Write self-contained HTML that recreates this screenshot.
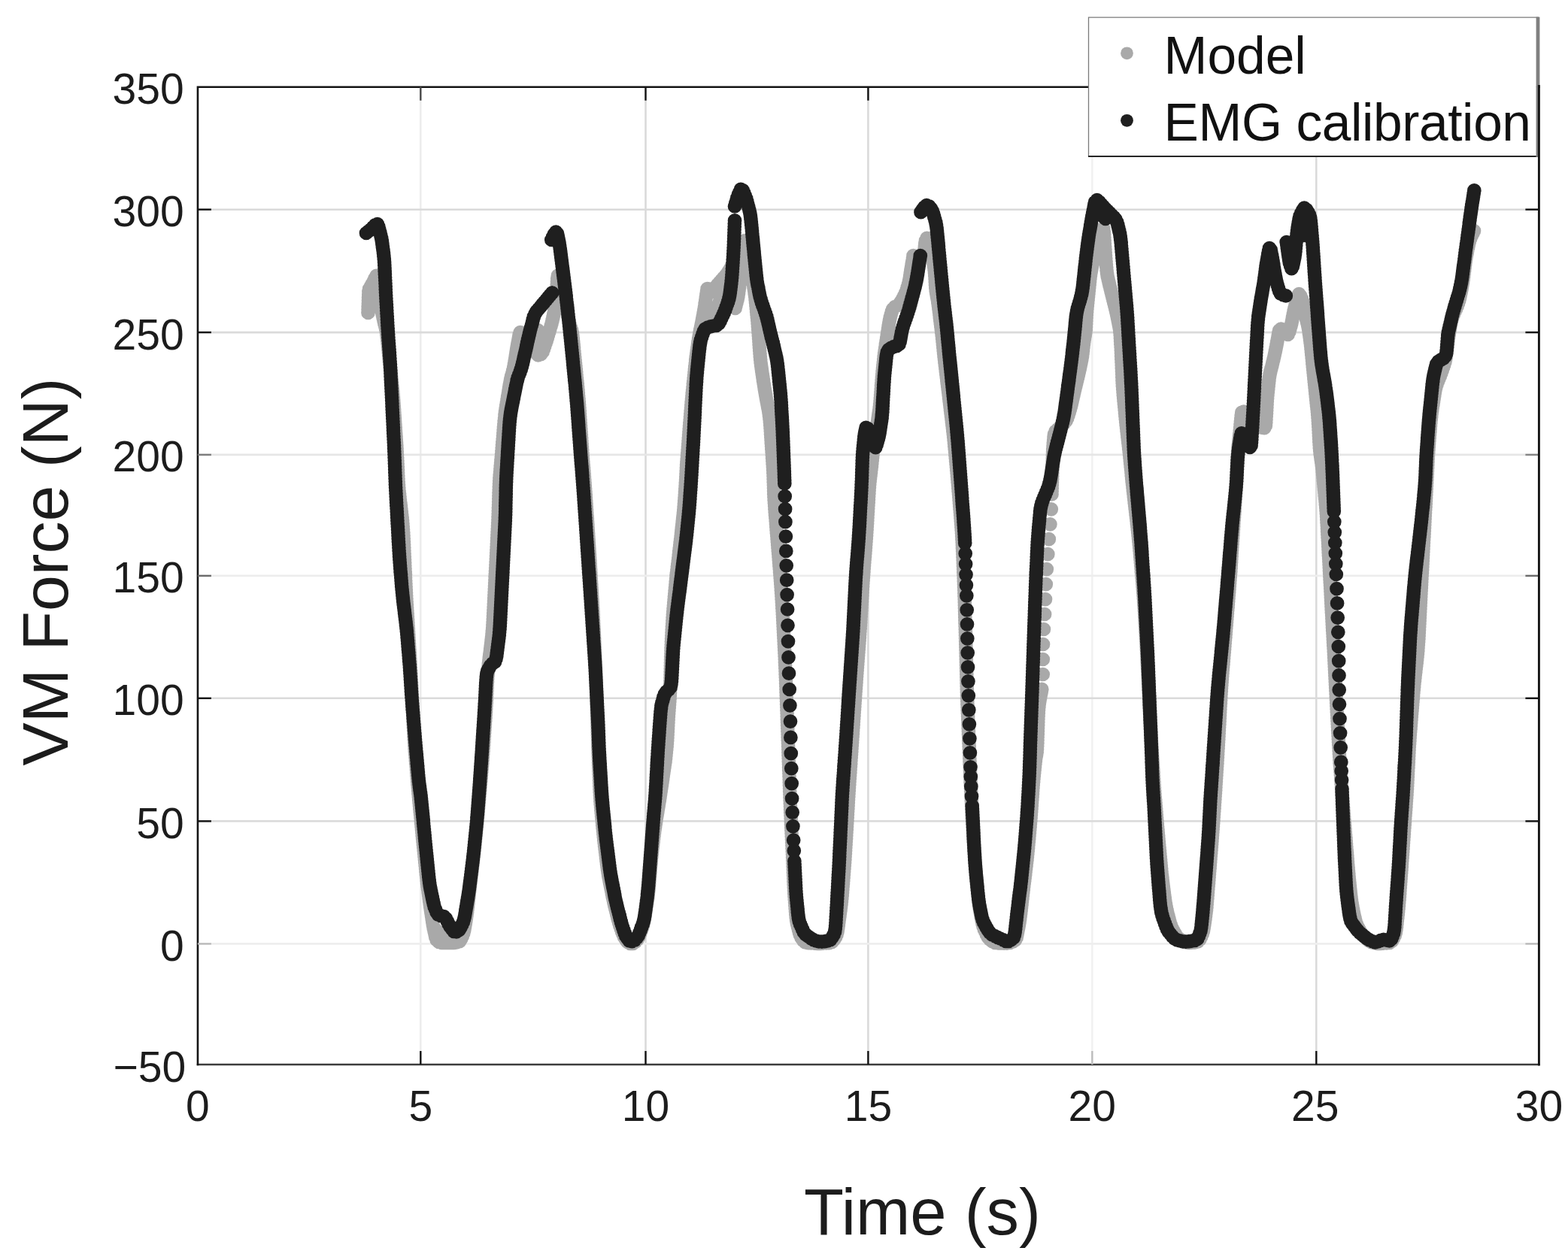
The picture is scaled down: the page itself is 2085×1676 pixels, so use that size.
<!DOCTYPE html>
<html lang="en">
<head>
<meta charset="utf-8">
<title>VM Force vs Time</title>
<style>
html,body{margin:0;padding:0;background:#fff;}
body{width:2085px;height:1676px;overflow:hidden;}
svg{display:block;}
</style>
</head>
<body>
<svg width="2085" height="1676" viewBox="0 0 2085 1676">
<rect width="2085" height="1676" fill="#fff"/>
<g stroke-width="2.6" fill="none">
<line x1="559.3" y1="115.7" x2="559.3" y2="1416.0" stroke="#ececec"/>
<line x1="858.5" y1="115.7" x2="858.5" y2="1416.0" stroke="#dadada"/>
<line x1="1154.4" y1="115.7" x2="1154.4" y2="1416.0" stroke="#dadada"/>
<line x1="1452.3" y1="115.7" x2="1452.3" y2="1416.0" stroke="#f1f1f1"/>
<line x1="1750.3" y1="115.7" x2="1750.3" y2="1416.0" stroke="#dadada"/>
<line x1="262.9" y1="278.7" x2="2046.4" y2="278.7" stroke="#dadada"/>
<line x1="262.9" y1="442.1" x2="2046.4" y2="442.1" stroke="#dadada"/>
<line x1="262.9" y1="604.9" x2="2046.4" y2="604.9" stroke="#e6e6e6"/>
<line x1="262.9" y1="765.9" x2="2046.4" y2="765.9" stroke="#ededed"/>
<line x1="262.9" y1="928.8" x2="2046.4" y2="928.8" stroke="#dadada"/>
<line x1="262.9" y1="1092.3" x2="2046.4" y2="1092.3" stroke="#dadada"/>
<line x1="262.9" y1="1255.4" x2="2046.4" y2="1255.4" stroke="#eeeeee"/>
</g>
<path d="M489.5 416.0h0M489.6 412.0h0M489.7 408.0h0M489.9 404.0h0M490.0 400.0h0M490.1 396.0h0M490.3 392.0h0M490.4 388.0h0M491.2 384.1h0M493.2 380.6h0M495.2 377.2h0M497.1 373.6h0M498.7 370.0h0M500.6 366.9h0M501.6 370.7h0M502.0 374.7h0M502.4 378.7h0M502.8 382.7h0M503.3 386.6h0M503.8 390.6h0M504.4 394.5h0M505.0 398.5h0M505.6 402.5h0M506.3 406.4h0M507.1 410.3h0M507.8 414.2h0M508.6 418.2h0M509.4 422.1h0M510.3 426.0h0M511.2 429.9h0M512.2 433.8h0M513.1 437.7h0M513.9 441.6h0M514.4 445.5h0M514.9 449.5h0M515.3 453.5h0M515.7 457.5h0M516.1 461.5h0M516.5 465.4h0M516.9 469.4h0M517.3 473.4h0M517.7 477.4h0M518.1 481.4h0M518.5 485.3h0M518.9 489.3h0M519.4 493.3h0M519.8 497.3h0M520.2 501.2h0M520.6 505.2h0M521.0 509.2h0M521.4 513.2h0M521.8 517.2h0M522.2 521.1h0M522.5 525.1h0M522.9 529.1h0M523.2 533.1h0M523.5 537.1h0M523.8 541.1h0M524.1 545.1h0M524.3 549.1h0M524.6 553.1h0M524.9 557.0h0M525.1 561.0h0M525.4 565.0h0M525.7 569.0h0M525.9 573.0h0M526.2 577.0h0M526.5 581.0h0M526.7 585.0h0M527.0 589.0h0M527.3 593.0h0M527.5 597.0h0M527.7 601.0h0M528.0 604.9h0M528.2 608.9h0M528.4 612.9h0M528.6 616.9h0M528.8 620.9h0M529.0 624.9h0M529.1 628.9h0M529.3 632.9h0M529.5 636.9h0M529.7 640.9h0M530.0 644.9h0M530.3 648.9h0M530.6 652.9h0M531.1 656.8h0M531.5 660.8h0M531.9 664.8h0M532.4 668.8h0M532.9 672.7h0M533.3 676.7h0M533.8 680.7h0M534.2 684.7h0M534.7 688.6h0M535.1 692.6h0M535.4 696.6h0M535.7 700.6h0M536.0 704.6h0M536.3 708.6h0M536.5 712.6h0M536.7 716.6h0M536.9 720.6h0M537.1 724.6h0M537.3 728.5h0M537.4 732.5h0M537.6 736.5h0M537.8 740.5h0M538.0 744.5h0M538.2 748.5h0M538.3 752.5h0M538.5 756.5h0M538.7 760.5h0M538.9 764.5h0M539.0 768.5h0M539.2 772.5h0M539.4 776.5h0M539.6 780.5h0M539.8 784.5h0M540.0 788.5h0M540.2 792.5h0M540.4 796.5h0M540.6 800.5h0M540.9 804.5h0M541.1 808.5h0M541.3 812.4h0M541.6 816.4h0M541.8 820.4h0M542.1 824.4h0M542.3 828.4h0M542.5 832.4h0M542.8 836.4h0M543.0 840.4h0M543.3 844.4h0M543.5 848.4h0M543.8 852.4h0M544.0 856.4h0M544.2 860.4h0M544.5 864.4h0M544.7 868.3h0M545.0 872.3h0M545.2 876.3h0M545.5 880.3h0M545.7 884.3h0M545.9 888.3h0M546.2 892.3h0M546.4 896.3h0M546.6 900.3h0M546.8 904.3h0M547.0 908.3h0M547.2 912.3h0M547.4 916.3h0M547.6 920.3h0M547.8 924.3h0M548.0 928.3h0M548.2 932.3h0M548.4 936.2h0M548.6 940.2h0M548.8 944.2h0M549.0 948.2h0M549.2 952.2h0M549.4 956.2h0M549.6 960.2h0M549.8 964.2h0M550.0 968.2h0M550.2 972.2h0M550.4 976.2h0M550.6 980.2h0M550.8 984.2h0M551.1 988.2h0M551.4 992.2h0M551.6 996.2h0M551.9 1000.1h0M552.3 1004.1h0M552.6 1008.1h0M552.9 1012.1h0M553.2 1016.1h0M553.6 1020.1h0M553.9 1024.1h0M554.2 1028.1h0M554.5 1032.0h0M554.9 1036.0h0M555.2 1040.0h0M555.5 1044.0h0M555.9 1048.0h0M556.2 1052.0h0M556.5 1056.0h0M556.9 1059.9h0M557.2 1063.9h0M557.6 1067.9h0M558.0 1071.9h0M558.3 1075.9h0M558.7 1079.9h0M559.1 1083.8h0M559.5 1087.8h0M559.8 1091.8h0M560.2 1095.8h0M560.6 1099.8h0M561.0 1103.7h0M561.4 1107.7h0M561.7 1111.7h0M562.1 1115.7h0M562.5 1119.7h0M562.9 1123.7h0M563.3 1127.6h0M563.7 1131.6h0M564.1 1135.6h0M564.5 1139.6h0M564.9 1143.6h0M565.3 1147.5h0M565.7 1151.5h0M566.1 1155.5h0M566.4 1159.5h0M566.8 1163.5h0M567.3 1167.4h0M567.7 1171.4h0M568.1 1175.4h0M568.6 1179.4h0M569.1 1183.3h0M569.6 1187.3h0M570.2 1191.3h0M570.7 1195.2h0M571.2 1199.2h0M571.8 1203.2h0M572.3 1207.1h0M572.9 1211.1h0M573.5 1215.0h0M574.1 1219.0h0M574.7 1222.9h0M575.3 1226.9h0M575.9 1230.8h0M576.6 1234.8h0M577.5 1238.7h0M578.4 1242.6h0M579.2 1246.5h0M580.6 1250.2h0M583.6 1252.9h0M587.4 1253.9h0M591.4 1254.0h0M595.4 1254.0h0M599.4 1254.0h0M603.4 1253.9h0M607.3 1253.3h0M611.1 1252.1h0M613.3 1248.8h0M614.9 1245.1h0M616.3 1241.4h0M617.3 1237.5h0M618.0 1233.6h0M618.7 1229.6h0M619.3 1225.7h0M619.9 1221.7h0M620.5 1217.8h0M621.1 1213.8h0M621.5 1209.8h0M622.0 1205.9h0M622.4 1201.9h0M622.8 1197.9h0M623.3 1193.9h0M623.7 1190.0h0M624.1 1186.0h0M624.6 1182.0h0M625.1 1178.0h0M625.6 1174.1h0M626.0 1170.1h0M626.5 1166.1h0M627.0 1162.2h0M627.5 1158.2h0M627.9 1154.2h0M628.4 1150.2h0M628.9 1146.3h0M629.3 1142.3h0M629.8 1138.3h0M630.2 1134.3h0M630.6 1130.4h0M631.1 1126.4h0M631.5 1122.4h0M631.9 1118.4h0M632.3 1114.4h0M632.7 1110.5h0M633.1 1106.5h0M633.4 1102.5h0M633.8 1098.5h0M634.2 1094.5h0M634.6 1090.6h0M635.0 1086.6h0M635.4 1082.6h0M635.7 1078.6h0M636.1 1074.6h0M636.5 1070.6h0M636.8 1066.7h0M637.2 1062.7h0M637.5 1058.7h0M637.9 1054.7h0M638.3 1050.7h0M638.6 1046.7h0M639.0 1042.8h0M639.3 1038.8h0M639.7 1034.8h0M640.0 1030.8h0M640.3 1026.8h0M640.6 1022.8h0M641.0 1018.8h0M641.3 1014.9h0M641.6 1010.9h0M641.9 1006.9h0M642.2 1002.9h0M642.5 998.9h0M642.8 994.9h0M643.1 990.9h0M643.4 986.9h0M643.6 982.9h0M643.9 978.9h0M644.1 975.0h0M644.4 971.0h0M644.7 967.0h0M644.9 963.0h0M645.2 959.0h0M645.5 955.0h0M645.7 951.0h0M646.0 947.0h0M646.2 943.0h0M646.4 939.0h0M646.7 935.0h0M646.9 931.0h0M647.0 927.0h0M647.2 923.0h0M647.4 919.1h0M647.6 915.1h0M647.7 911.1h0M648.0 907.1h0M648.2 903.1h0M648.5 899.1h0M648.9 895.1h0M649.2 891.1h0M649.6 887.1h0M649.9 883.2h0M650.4 879.2h0M650.8 875.2h0M651.3 871.2h0M651.8 867.3h0M652.2 863.3h0M652.7 859.3h0M653.2 855.3h0M653.6 851.4h0M654.1 847.4h0M654.5 843.4h0M654.8 839.4h0M655.2 835.4h0M655.4 831.4h0M655.6 827.5h0M655.8 823.5h0M656.0 819.5h0M656.2 815.5h0M656.4 811.5h0M656.6 807.5h0M656.8 803.5h0M657.0 799.5h0M657.2 795.5h0M657.4 791.5h0M657.6 787.5h0M657.8 783.5h0M658.0 779.5h0M658.2 775.5h0M658.4 771.5h0M658.6 767.5h0M658.8 763.5h0M659.0 759.5h0M659.2 755.5h0M659.4 751.5h0M659.6 747.6h0M659.8 743.6h0M660.0 739.6h0M660.2 735.6h0M660.4 731.6h0M660.6 727.6h0M660.8 723.6h0M661.0 719.6h0M661.2 715.6h0M661.4 711.6h0M661.6 707.6h0M661.8 703.6h0M662.0 699.6h0M662.2 695.6h0M662.4 691.6h0M662.5 687.6h0M662.7 683.6h0M662.8 679.6h0M662.9 675.6h0M663.1 671.6h0M663.2 667.6h0M663.3 663.6h0M663.4 659.6h0M663.5 655.6h0M663.7 651.6h0M663.8 647.6h0M664.0 643.6h0M664.2 639.7h0M664.4 635.7h0M664.7 631.7h0M665.1 627.7h0M665.4 623.7h0M665.7 619.7h0M666.1 615.7h0M666.4 611.7h0M666.8 607.8h0M667.1 603.8h0M667.4 599.8h0M667.7 595.8h0M668.0 591.8h0M668.3 587.8h0M668.7 583.8h0M669.0 579.8h0M669.3 575.9h0M669.6 571.9h0M669.9 567.9h0M670.3 563.9h0M670.6 559.9h0M671.1 555.9h0M671.5 552.0h0M672.0 548.0h0M672.6 544.0h0M673.2 540.1h0M673.9 536.1h0M674.5 532.2h0M675.1 528.2h0M675.8 524.3h0M676.4 520.3h0M677.0 516.4h0M677.7 512.4h0M678.4 508.5h0M679.1 504.6h0M680.0 500.7h0M681.1 496.8h0M682.2 493.0h0M683.2 489.1h0M683.9 485.2h0M684.6 481.2h0M685.2 477.3h0M685.8 473.3h0M686.4 469.4h0M687.0 465.4h0M687.6 461.5h0M688.3 457.5h0M689.1 453.6h0M689.8 449.7h0M690.5 445.7h0M691.8 442.0h0M694.6 443.4h0M697.3 446.3h0M699.6 449.6h0M701.8 452.9h0M703.9 456.3h0M706.0 459.7h0M708.1 463.2h0M710.2 466.6h0M712.7 469.7h0M715.6 472.4h0M719.2 471.1h0M721.6 468.0h0M723.0 464.2h0M724.3 460.5h0M725.6 456.7h0M726.8 452.9h0M728.0 449.0h0M729.1 445.2h0M730.3 441.4h0M731.4 437.5h0M732.6 433.7h0M733.6 429.9h0M734.6 426.0h0M735.5 422.1h0M736.3 418.2h0M737.1 414.2h0M737.8 410.3h0M738.5 406.4h0M739.0 402.4h0M739.3 398.4h0M739.7 394.4h0M740.0 390.4h0M740.4 386.4h0M740.6 382.5h0M740.8 378.5h0M741.0 374.5h0M741.2 370.5h0M741.9 366.6h0M744.2 369.1h0M745.9 372.7h0M746.9 376.6h0M747.8 380.5h0M748.7 384.4h0M749.5 388.3h0M750.3 392.2h0M751.2 396.1h0M751.9 400.1h0M752.6 404.0h0M753.3 407.9h0M754.0 411.9h0M754.6 415.8h0M755.3 419.8h0M756.0 423.7h0M756.7 427.6h0M757.6 431.5h0M758.8 435.4h0M760.0 439.2h0M760.8 443.1h0M761.3 447.1h0M761.8 451.0h0M762.2 455.0h0M762.6 459.0h0M763.0 463.0h0M763.4 466.9h0M763.8 470.9h0M764.2 474.9h0M764.6 478.9h0M765.0 482.9h0M765.4 486.8h0M765.8 490.8h0M766.2 494.8h0M766.5 498.8h0M766.9 502.8h0M767.3 506.7h0M767.7 510.7h0M768.1 514.7h0M768.5 518.7h0M768.8 522.7h0M769.1 526.7h0M769.5 530.6h0M769.8 534.6h0M770.1 538.6h0M770.4 542.6h0M770.7 546.6h0M770.9 550.6h0M771.2 554.6h0M771.5 558.6h0M771.7 562.6h0M772.0 566.6h0M772.3 570.5h0M772.5 574.5h0M772.8 578.5h0M773.1 582.5h0M773.3 586.5h0M773.6 590.5h0M773.9 594.5h0M774.2 598.5h0M774.4 602.5h0M774.7 606.5h0M775.0 610.5h0M775.3 614.4h0M775.6 618.4h0M776.0 622.4h0M776.3 626.4h0M776.6 630.4h0M776.9 634.4h0M777.2 638.4h0M777.5 642.4h0M777.8 646.3h0M778.1 650.3h0M778.4 654.3h0M778.7 658.3h0M778.9 662.3h0M779.2 666.3h0M779.5 670.3h0M779.7 674.3h0M780.0 678.3h0M780.2 682.3h0M780.5 686.3h0M780.8 690.2h0M781.0 694.2h0M781.3 698.2h0M781.5 702.2h0M781.8 706.2h0M782.1 710.2h0M782.3 714.2h0M782.6 718.2h0M782.8 722.2h0M783.1 726.2h0M783.4 730.2h0M783.6 734.2h0M783.9 738.1h0M784.1 742.1h0M784.4 746.1h0M784.6 750.1h0M784.8 754.1h0M785.1 758.1h0M785.3 762.1h0M785.6 766.1h0M785.8 770.1h0M786.0 774.1h0M786.3 778.1h0M786.5 782.1h0M786.8 786.1h0M787.0 790.1h0M787.2 794.0h0M787.5 798.0h0M787.7 802.0h0M787.9 806.0h0M788.2 810.0h0M788.4 814.0h0M788.6 818.0h0M788.8 822.0h0M789.0 826.0h0M789.2 830.0h0M789.4 834.0h0M789.6 838.0h0M789.8 842.0h0M790.0 846.0h0M790.2 850.0h0M790.3 854.0h0M790.5 858.0h0M790.7 862.0h0M790.9 866.0h0M791.1 869.9h0M791.3 873.9h0M791.5 877.9h0M791.6 881.9h0M791.8 885.9h0M792.0 889.9h0M792.1 893.9h0M792.3 897.9h0M792.4 901.9h0M792.6 905.9h0M792.7 909.9h0M792.8 913.9h0M793.0 917.9h0M793.1 921.9h0M793.2 925.9h0M793.4 929.9h0M793.5 933.9h0M793.6 937.9h0M793.8 941.9h0M793.9 945.9h0M794.0 949.9h0M794.2 953.9h0M794.3 957.9h0M794.4 961.9h0M794.5 965.9h0M794.7 969.9h0M794.8 973.9h0M794.9 977.9h0M795.0 981.9h0M795.1 985.9h0M795.2 989.9h0M795.3 993.9h0M795.5 997.9h0M795.6 1001.9h0M795.7 1005.9h0M795.9 1009.9h0M796.1 1013.9h0M796.2 1017.9h0M796.4 1021.9h0M796.5 1025.8h0M796.7 1029.8h0M796.9 1033.8h0M797.0 1037.8h0M797.2 1041.8h0M797.3 1045.8h0M797.5 1049.8h0M797.7 1053.8h0M797.9 1057.8h0M798.2 1061.8h0M798.4 1065.8h0M798.7 1069.8h0M799.1 1073.8h0M799.4 1077.8h0M799.8 1081.7h0M800.1 1085.7h0M800.5 1089.7h0M800.9 1093.7h0M801.2 1097.7h0M801.6 1101.7h0M802.0 1105.6h0M802.4 1109.6h0M802.8 1113.6h0M803.2 1117.6h0M803.7 1121.6h0M804.1 1125.5h0M804.6 1129.5h0M805.1 1133.5h0M805.6 1137.4h0M806.0 1141.4h0M806.5 1145.4h0M807.0 1149.4h0M807.5 1153.3h0M808.0 1157.3h0M808.6 1161.2h0M809.2 1165.2h0M810.0 1169.1h0M810.7 1173.1h0M811.5 1177.0h0M812.3 1180.9h0M813.1 1184.8h0M813.8 1188.7h0M814.6 1192.7h0M815.5 1196.6h0M816.3 1200.5h0M817.2 1204.4h0M818.2 1208.3h0M819.2 1212.1h0M820.1 1216.0h0M821.1 1219.9h0M822.1 1223.8h0M823.2 1227.6h0M824.3 1231.5h0M825.7 1235.2h0M827.0 1239.0h0M828.4 1242.7h0M830.0 1246.4h0M832.1 1249.8h0M834.5 1253.0h0M837.8 1255.0h0M841.8 1254.9h0M845.0 1252.7h0M847.6 1249.6h0M849.5 1246.2h0M850.9 1242.4h0M852.3 1238.7h0M853.6 1234.9h0M854.8 1231.1h0M855.8 1227.2h0M856.7 1223.3h0M857.4 1219.4h0M858.0 1215.4h0M858.6 1211.5h0M859.2 1207.5h0M859.9 1203.6h0M860.5 1199.6h0M861.1 1195.6h0M861.6 1191.7h0M862.0 1187.7h0M862.5 1183.7h0M862.9 1179.7h0M863.2 1175.8h0M863.5 1171.8h0M863.9 1167.8h0M864.2 1163.8h0M864.6 1159.8h0M864.9 1155.8h0M865.2 1151.8h0M865.6 1147.9h0M865.9 1143.9h0M866.3 1139.9h0M866.7 1135.9h0M867.1 1131.9h0M867.6 1128.0h0M868.1 1124.0h0M868.6 1120.0h0M869.0 1116.1h0M869.5 1112.1h0M870.0 1108.1h0M870.5 1104.1h0M871.1 1100.2h0M871.7 1096.2h0M872.3 1092.3h0M872.9 1088.3h0M873.6 1084.4h0M874.3 1080.4h0M874.9 1076.5h0M875.6 1072.5h0M876.2 1068.6h0M876.9 1064.7h0M877.5 1060.7h0M878.1 1056.8h0M878.7 1052.8h0M879.3 1048.8h0M879.9 1044.9h0M880.5 1040.9h0M881.1 1037.0h0M881.6 1033.0h0M882.2 1029.1h0M882.8 1025.1h0M883.4 1021.1h0M883.9 1017.2h0M884.5 1013.2h0M885.0 1009.2h0M885.4 1005.3h0M885.8 1001.3h0M886.2 997.3h0M886.6 993.3h0M886.9 989.3h0M887.2 985.3h0M887.4 981.4h0M887.6 977.4h0M887.8 973.4h0M888.0 969.4h0M888.2 965.4h0M888.4 961.4h0M888.6 957.4h0M888.8 953.4h0M889.1 949.4h0M889.4 945.4h0M889.7 941.4h0M890.0 937.4h0M890.3 933.4h0M890.6 929.5h0M890.8 925.5h0M891.0 921.5h0M891.2 917.5h0M891.3 913.5h0M891.3 909.5h0M891.4 905.5h0M891.5 901.5h0M891.6 897.5h0M891.7 893.5h0M891.8 889.5h0M891.9 885.5h0M892.0 881.5h0M892.1 877.5h0M892.2 873.5h0M892.4 869.5h0M892.5 865.5h0M892.6 861.5h0M892.8 857.5h0M892.9 853.5h0M893.1 849.5h0M893.3 845.5h0M893.5 841.5h0M893.7 837.5h0M893.9 833.5h0M894.2 829.5h0M894.4 825.5h0M894.6 821.5h0M894.9 817.6h0M895.2 813.6h0M895.5 809.6h0M895.9 805.6h0M896.2 801.6h0M896.6 797.6h0M896.9 793.6h0M897.3 789.7h0M897.6 785.7h0M898.0 781.7h0M898.4 777.7h0M898.7 773.7h0M899.1 769.7h0M899.5 765.8h0M899.9 761.8h0M900.4 757.8h0M900.8 753.8h0M901.3 749.9h0M901.8 745.9h0M902.3 741.9h0M902.7 737.9h0M903.2 734.0h0M903.7 730.0h0M904.2 726.0h0M904.6 722.1h0M905.1 718.1h0M905.6 714.1h0M906.0 710.1h0M906.4 706.2h0M906.8 702.2h0M907.3 698.2h0M907.7 694.2h0M908.1 690.2h0M908.5 686.3h0M908.9 682.3h0M909.3 678.3h0M909.6 674.3h0M909.9 670.3h0M910.2 666.3h0M910.5 662.4h0M910.8 658.4h0M911.0 654.4h0M911.3 650.4h0M911.6 646.4h0M911.8 642.4h0M912.1 638.4h0M912.3 634.4h0M912.5 630.4h0M912.7 626.4h0M912.9 622.4h0M913.1 618.4h0M913.4 614.4h0M913.7 610.5h0M914.0 606.5h0M914.3 602.5h0M914.6 598.5h0M914.9 594.5h0M915.2 590.5h0M915.5 586.5h0M915.8 582.5h0M916.1 578.5h0M916.4 574.6h0M916.7 570.6h0M917.0 566.6h0M917.3 562.6h0M917.7 558.6h0M918.0 554.6h0M918.3 550.6h0M918.6 546.6h0M919.0 542.7h0M919.3 538.7h0M919.6 534.7h0M920.0 530.7h0M920.4 526.7h0M920.7 522.7h0M921.1 518.8h0M921.5 514.8h0M921.9 510.8h0M922.3 506.8h0M922.7 502.8h0M923.1 498.9h0M923.5 494.9h0M923.9 490.9h0M924.3 486.9h0M924.8 482.9h0M925.2 479.0h0M925.7 475.0h0M926.3 471.0h0M926.8 467.1h0M927.4 463.1h0M928.0 459.2h0M928.5 455.2h0M929.1 451.2h0M929.7 447.3h0M930.4 443.3h0M931.1 439.4h0M931.9 435.5h0M932.7 431.6h0M933.5 427.6h0M934.2 423.7h0M934.9 419.8h0M935.6 415.8h0M936.3 411.9h0M937.0 407.9h0M937.6 404.0h0M938.3 400.1h0M938.8 396.1h0M939.4 392.1h0M940.0 388.2h0M940.6 384.2h0M942.5 384.3h0M944.1 387.9h0M946.9 388.1h0M949.6 385.1h0M951.8 381.8h0M954.2 378.6h0M956.9 375.6h0M959.5 372.6h0M962.1 369.6h0M964.8 366.6h0M967.3 363.4h0M969.4 360.1h0M971.5 356.7h0M973.4 353.1h0M975.2 349.6h0M976.0 348.0h0M977.6 410.0h0M978.6 406.1h0M979.6 402.3h0M980.6 398.4h0M981.4 394.5h0M982.0 390.5h0M982.5 386.5h0M983.1 382.6h0M983.6 378.6h0M983.9 374.6h0M984.2 370.6h0M984.5 366.6h0M984.8 362.7h0M985.1 358.7h0M985.3 354.7h0M985.6 350.7h0M985.8 346.7h0M986.0 342.7h0M986.3 338.7h0M986.7 334.7h0M987.1 330.7h0M987.7 326.8h0M988.3 322.8h0M989.7 320.3h0M991.0 324.1h0M992.3 327.9h0M993.3 331.7h0M994.1 335.6h0M994.9 339.6h0M995.7 343.5h0M996.5 347.4h0M997.2 351.3h0M998.0 355.3h0M998.7 359.2h0M999.4 363.1h0M1000.1 367.1h0M1000.8 371.0h0M1001.4 375.0h0M1002.0 378.9h0M1002.5 382.9h0M1003.1 386.8h0M1003.6 390.8h0M1004.2 394.8h0M1004.6 398.8h0M1005.0 402.7h0M1005.4 406.7h0M1005.8 410.7h0M1006.1 414.7h0M1006.5 418.7h0M1006.9 422.6h0M1007.3 426.6h0M1007.6 430.6h0M1007.9 434.6h0M1008.2 438.6h0M1008.5 442.6h0M1008.8 446.6h0M1009.1 450.6h0M1009.4 454.5h0M1009.6 458.5h0M1009.9 462.5h0M1010.2 466.5h0M1010.5 470.5h0M1010.8 474.5h0M1011.2 478.5h0M1011.6 482.5h0M1012.1 486.4h0M1012.7 490.4h0M1013.2 494.3h0M1013.8 498.3h0M1014.4 502.3h0M1015.0 506.2h0M1015.6 510.2h0M1016.2 514.1h0M1016.8 518.1h0M1017.5 522.0h0M1018.2 526.0h0M1018.9 529.9h0M1019.6 533.8h0M1020.4 537.7h0M1021.1 541.7h0M1021.9 545.6h0M1022.5 549.6h0M1023.0 553.5h0M1023.5 557.5h0M1023.9 561.5h0M1024.2 565.5h0M1024.5 569.5h0M1024.8 573.4h0M1025.0 577.4h0M1025.3 581.4h0M1025.6 585.4h0M1025.8 589.4h0M1026.1 593.4h0M1026.3 597.4h0M1026.6 601.4h0M1026.9 605.4h0M1027.1 609.4h0M1027.4 613.4h0M1027.6 617.3h0M1027.9 621.3h0M1028.1 625.3h0M1028.3 629.3h0M1028.5 633.3h0M1028.6 637.3h0M1028.7 641.3h0M1028.9 645.3h0M1029.0 649.3h0M1029.1 653.3h0M1029.2 657.3h0M1029.4 661.3h0M1029.6 665.3h0M1029.9 669.3h0M1030.2 673.3h0M1030.4 677.3h0M1030.7 681.3h0M1031.0 685.3h0M1031.4 689.2h0M1031.7 693.2h0M1032.0 697.2h0M1032.3 701.2h0M1032.6 705.2h0M1032.9 709.2h0M1033.3 713.2h0M1033.6 717.2h0M1033.9 721.1h0M1034.2 725.1h0M1034.5 729.1h0M1034.8 733.1h0M1035.2 737.1h0M1035.5 741.1h0M1035.8 745.1h0M1036.1 749.1h0M1036.4 753.0h0M1036.8 757.0h0M1037.1 761.0h0M1037.4 765.0h0M1037.7 769.0h0M1038.0 773.0h0M1038.3 777.0h0M1038.6 781.0h0M1038.8 784.9h0M1039.1 788.9h0M1039.4 792.9h0M1039.6 796.9h0M1039.9 800.9h0M1040.1 804.9h0M1040.3 808.9h0M1040.6 812.9h0M1040.8 816.9h0M1041.0 820.9h0M1041.2 824.9h0M1041.4 828.9h0M1041.6 832.9h0M1041.8 836.9h0M1042.0 840.9h0M1042.2 844.9h0M1042.4 848.8h0M1042.6 852.8h0M1042.8 856.8h0M1043.0 860.8h0M1043.2 864.8h0M1043.4 868.8h0M1043.6 872.8h0M1043.8 876.8h0M1043.9 880.8h0M1044.1 884.8h0M1044.3 888.8h0M1044.5 892.8h0M1044.6 896.8h0M1044.8 900.8h0M1045.0 904.8h0M1045.1 908.8h0M1045.3 912.8h0M1045.4 916.8h0M1045.5 920.8h0M1045.7 924.8h0M1045.8 928.8h0M1046.0 932.8h0M1046.1 936.8h0M1046.3 940.8h0M1046.4 944.8h0M1046.6 948.8h0M1046.7 952.8h0M1046.8 956.8h0M1047.0 960.8h0M1047.1 964.8h0M1047.3 968.7h0M1047.4 972.7h0M1047.6 976.7h0M1047.7 980.7h0M1047.8 984.7h0M1048.0 988.7h0M1048.1 992.7h0M1048.3 996.7h0M1048.4 1000.7h0M1048.5 1004.7h0M1048.7 1008.7h0M1048.8 1012.7h0M1049.0 1016.7h0M1049.1 1020.7h0M1049.2 1024.7h0M1049.4 1028.7h0M1049.5 1032.7h0M1049.7 1036.7h0M1049.8 1040.7h0M1049.9 1044.7h0M1050.1 1048.7h0M1050.2 1052.7h0M1050.4 1056.7h0M1050.5 1060.7h0M1050.7 1064.7h0M1050.8 1068.7h0M1051.0 1072.7h0M1051.1 1076.7h0M1051.3 1080.7h0M1051.5 1084.7h0M1051.7 1088.7h0M1051.9 1092.7h0M1052.0 1096.7h0M1052.2 1100.7h0M1052.4 1104.6h0M1052.6 1108.6h0M1052.8 1112.6h0M1053.0 1116.6h0M1053.2 1120.6h0M1053.4 1124.6h0M1053.6 1128.6h0M1053.8 1132.6h0M1054.0 1136.6h0M1054.1 1140.6h0M1054.3 1144.6h0M1054.5 1148.6h0M1054.6 1152.6h0M1054.8 1156.6h0M1054.9 1160.6h0M1055.1 1164.6h0M1055.3 1168.6h0M1055.4 1172.6h0M1055.6 1176.6h0M1055.8 1180.6h0M1056.0 1184.6h0M1056.2 1188.6h0M1056.5 1192.6h0M1056.8 1196.5h0M1057.1 1200.5h0M1057.4 1204.5h0M1057.7 1208.5h0M1058.0 1212.5h0M1058.3 1216.5h0M1058.7 1220.5h0M1059.2 1224.4h0M1059.9 1228.4h0M1060.8 1232.3h0M1061.8 1236.1h0M1062.8 1240.0h0M1063.9 1243.8h0M1065.6 1247.4h0M1067.9 1250.8h0M1070.8 1253.4h0M1074.6 1254.2h0M1078.6 1254.4h0M1082.6 1254.6h0M1086.6 1254.8h0M1090.6 1254.9h0M1094.6 1254.7h0M1098.6 1254.5h0M1102.6 1254.2h0M1106.3 1252.9h0M1108.9 1249.9h0M1111.2 1246.6h0M1112.6 1242.9h0M1113.6 1239.0h0M1114.2 1235.0h0M1114.8 1231.1h0M1115.3 1227.1h0M1115.8 1223.2h0M1116.4 1219.2h0M1116.9 1215.2h0M1117.5 1211.3h0M1118.0 1207.3h0M1118.5 1203.3h0M1118.9 1199.4h0M1119.3 1195.4h0M1119.7 1191.4h0M1120.0 1187.4h0M1120.3 1183.4h0M1120.6 1179.4h0M1121.0 1175.4h0M1121.3 1171.5h0M1121.6 1167.5h0M1121.9 1163.5h0M1122.2 1159.5h0M1122.5 1155.5h0M1122.8 1151.5h0M1123.1 1147.5h0M1123.4 1143.5h0M1123.6 1139.5h0M1123.9 1135.6h0M1124.1 1131.6h0M1124.3 1127.6h0M1124.6 1123.6h0M1124.8 1119.6h0M1125.1 1115.6h0M1125.3 1111.6h0M1125.5 1107.6h0M1125.8 1103.6h0M1126.0 1099.6h0M1126.2 1095.6h0M1126.5 1091.6h0M1126.7 1087.6h0M1126.9 1083.6h0M1127.1 1079.6h0M1127.4 1075.7h0M1127.6 1071.7h0M1127.8 1067.7h0M1128.0 1063.7h0M1128.3 1059.7h0M1128.5 1055.7h0M1128.8 1051.7h0M1129.0 1047.7h0M1129.3 1043.7h0M1129.5 1039.7h0M1129.8 1035.7h0M1130.1 1031.7h0M1130.4 1027.7h0M1130.6 1023.8h0M1130.9 1019.8h0M1131.2 1015.8h0M1131.4 1011.8h0M1131.7 1007.8h0M1132.0 1003.8h0M1132.3 999.8h0M1132.5 995.8h0M1132.8 991.8h0M1133.1 987.8h0M1133.3 983.9h0M1133.6 979.9h0M1133.9 975.9h0M1134.1 971.9h0M1134.4 967.9h0M1134.7 963.9h0M1134.9 959.9h0M1135.2 955.9h0M1135.5 951.9h0M1135.7 947.9h0M1136.0 943.9h0M1136.3 939.9h0M1136.5 936.0h0M1136.8 932.0h0M1137.1 928.0h0M1137.3 924.0h0M1137.6 920.0h0M1137.9 916.0h0M1138.2 912.0h0M1138.5 908.0h0M1138.7 904.0h0M1139.0 900.0h0M1139.3 896.1h0M1139.6 892.1h0M1139.9 888.1h0M1140.2 884.1h0M1140.5 880.1h0M1140.8 876.1h0M1141.1 872.1h0M1141.4 868.1h0M1141.7 864.1h0M1142.0 860.2h0M1142.3 856.2h0M1142.6 852.2h0M1142.9 848.2h0M1143.1 844.2h0M1143.4 840.2h0M1143.7 836.2h0M1143.9 832.2h0M1144.2 828.2h0M1144.4 824.2h0M1144.7 820.2h0M1144.9 816.3h0M1145.2 812.3h0M1145.4 808.3h0M1145.6 804.3h0M1145.9 800.3h0M1146.1 796.3h0M1146.4 792.3h0M1146.6 788.3h0M1146.8 784.3h0M1147.1 780.3h0M1147.3 776.3h0M1147.6 772.3h0M1147.9 768.3h0M1148.1 764.4h0M1148.4 760.4h0M1148.7 756.4h0M1149.0 752.4h0M1149.3 748.4h0M1149.6 744.4h0M1150.0 740.4h0M1150.3 736.4h0M1150.6 732.4h0M1150.9 728.5h0M1151.2 724.5h0M1151.5 720.5h0M1151.8 716.5h0M1152.1 712.5h0M1152.3 708.5h0M1152.6 704.5h0M1152.8 700.5h0M1153.1 696.5h0M1153.3 692.5h0M1153.5 688.5h0M1153.7 684.6h0M1154.0 680.6h0M1154.2 676.6h0M1154.4 672.6h0M1154.7 668.6h0M1154.9 664.6h0M1155.1 660.6h0M1155.4 656.6h0M1155.6 652.6h0M1155.9 648.6h0M1156.2 644.6h0M1156.6 640.6h0M1157.0 636.7h0M1157.5 632.7h0M1158.0 628.7h0M1158.4 624.8h0M1158.9 620.8h0M1159.3 616.8h0M1159.7 612.8h0M1160.1 608.8h0M1160.5 604.9h0M1161.0 600.9h0M1161.5 596.9h0M1162.1 593.0h0M1162.8 589.0h0M1163.4 585.1h0M1164.0 581.1h0M1164.6 577.2h0M1165.2 573.2h0M1165.8 569.3h0M1166.4 565.3h0M1167.0 561.3h0M1167.5 557.4h0M1168.1 553.4h0M1168.6 549.5h0M1169.2 545.5h0M1169.7 541.5h0M1170.1 537.5h0M1170.5 533.6h0M1170.8 529.6h0M1171.1 525.6h0M1171.4 521.6h0M1171.7 517.6h0M1172.0 513.6h0M1172.3 509.6h0M1172.6 505.6h0M1172.9 501.7h0M1173.3 497.7h0M1173.6 493.7h0M1174.0 489.7h0M1174.4 485.7h0M1174.8 481.8h0M1175.2 477.8h0M1175.6 473.8h0M1176.1 469.8h0M1176.7 465.9h0M1177.3 461.9h0M1177.9 458.0h0M1178.6 454.0h0M1179.2 450.1h0M1179.8 446.1h0M1180.4 442.2h0M1181.0 438.2h0M1181.6 434.2h0M1182.2 430.3h0M1182.9 426.3h0M1183.7 422.4h0M1184.7 418.6h0M1185.8 414.7h0M1187.3 411.0h0M1190.1 408.2h0M1193.7 406.5h0M1196.4 403.7h0M1198.6 400.3h0M1200.6 396.8h0M1202.4 393.3h0M1204.1 389.7h0M1205.6 385.9h0M1206.8 382.1h0M1207.9 378.3h0M1208.9 374.4h0M1209.6 370.5h0M1210.2 366.5h0M1210.8 362.6h0M1211.4 358.6h0M1212.1 354.7h0M1212.7 350.7h0M1213.4 346.8h0M1214.0 342.8h0M1214.5 340.0h0M1229.5 332.0h0M1229.9 328.0h0M1230.3 324.0h0M1231.0 320.1h0M1232.5 316.9h0M1234.8 320.2h0M1236.3 323.8h0M1237.3 327.7h0M1238.1 331.6h0M1239.0 335.5h0M1239.8 339.4h0M1240.4 343.4h0M1241.0 347.3h0M1241.5 351.3h0M1242.1 355.3h0M1242.6 359.2h0M1243.0 363.2h0M1243.3 367.2h0M1243.6 371.2h0M1243.8 375.2h0M1244.0 379.2h0M1244.3 383.2h0M1244.7 387.2h0M1245.3 391.1h0M1246.0 395.0h0M1246.8 399.0h0M1247.3 402.9h0M1247.9 406.9h0M1248.4 410.9h0M1248.9 414.8h0M1249.4 418.8h0M1249.8 422.8h0M1250.3 426.7h0M1250.8 430.7h0M1251.3 434.7h0M1251.8 438.7h0M1252.2 442.6h0M1252.7 446.6h0M1253.1 450.6h0M1253.5 454.6h0M1253.9 458.5h0M1254.3 462.5h0M1254.7 466.5h0M1255.1 470.5h0M1255.5 474.5h0M1256.0 478.4h0M1256.4 482.4h0M1256.9 486.4h0M1257.4 490.4h0M1257.8 494.3h0M1258.3 498.3h0M1258.8 502.3h0M1259.3 506.2h0M1259.7 510.2h0M1260.2 514.2h0M1260.7 518.2h0M1261.2 522.1h0M1261.7 526.1h0M1262.1 530.1h0M1262.6 534.0h0M1263.1 538.0h0M1263.6 542.0h0M1264.0 546.0h0M1264.5 549.9h0M1265.0 553.9h0M1265.5 557.9h0M1265.9 561.8h0M1266.4 565.8h0M1266.9 569.8h0M1267.3 573.8h0M1267.8 577.7h0M1268.2 581.7h0M1268.6 585.7h0M1269.0 589.7h0M1269.3 593.7h0M1269.7 597.6h0M1270.1 601.6h0M1270.4 605.6h0M1270.8 609.6h0M1271.1 613.6h0M1271.5 617.6h0M1271.9 621.5h0M1272.2 625.5h0M1272.6 629.5h0M1272.9 633.5h0M1273.3 637.5h0M1273.6 641.5h0M1274.0 645.4h0M1274.3 649.4h0M1274.6 653.4h0M1275.0 657.4h0M1275.3 661.4h0M1275.6 665.4h0M1275.9 669.4h0M1276.2 673.4h0M1276.5 677.3h0M1276.9 681.3h0M1277.2 685.3h0M1277.5 689.3h0M1277.8 693.3h0M1278.1 697.3h0M1278.4 701.3h0M1278.7 705.3h0M1279.0 709.3h0M1279.2 713.2h0M1279.4 717.2h0M1279.7 721.2h0M1279.9 725.2h0M1280.0 729.2h0M1280.2 733.2h0M1280.4 737.2h0M1280.5 741.2h0M1280.7 745.2h0M1280.9 749.2h0M1281.0 753.2h0M1281.2 757.2h0M1281.3 761.2h0M1281.5 765.2h0M1281.7 769.2h0M1281.8 773.2h0M1282.0 777.2h0M1282.1 781.2h0M1282.3 785.2h0M1282.4 789.2h0M1282.5 793.2h0M1282.7 797.2h0M1282.8 801.2h0M1282.9 805.2h0M1283.0 809.2h0M1283.1 813.2h0M1283.2 817.2h0M1283.3 821.2h0M1283.4 825.2h0M1283.5 829.2h0M1283.7 833.2h0M1283.8 837.2h0M1283.9 841.2h0M1284.0 845.2h0M1284.1 849.2h0M1284.2 853.2h0M1284.3 857.2h0M1284.4 861.1h0M1284.5 865.1h0M1284.6 869.1h0M1284.7 873.1h0M1284.8 877.1h0M1284.9 881.1h0M1285.0 885.1h0M1285.1 889.1h0M1285.2 893.1h0M1285.3 897.1h0M1285.4 901.1h0M1285.5 905.1h0M1285.6 909.1h0M1285.7 913.1h0M1285.8 917.1h0M1285.9 921.1h0M1286.0 925.1h0M1286.1 929.1h0M1286.3 933.1h0M1286.4 937.1h0M1286.6 941.1h0M1286.7 945.1h0M1286.9 949.1h0M1287.1 953.1h0M1287.2 957.1h0M1287.4 961.1h0M1287.5 965.1h0M1287.7 969.1h0M1287.9 973.1h0M1288.0 977.1h0M1288.2 981.1h0M1288.3 985.1h0M1288.5 989.1h0M1288.7 993.1h0M1288.8 997.1h0M1289.0 1001.1h0M1289.2 1005.1h0M1289.3 1009.1h0M1289.5 1013.1h0M1289.6 1017.1h0M1289.8 1021.1h0M1290.0 1025.0h0M1290.1 1029.0h0M1290.3 1033.0h0M1290.5 1037.0h0M1290.6 1041.0h0M1290.8 1045.0h0M1291.0 1049.0h0M1291.2 1053.0h0M1291.4 1057.0h0M1291.6 1061.0h0M1291.8 1065.0h0M1292.0 1069.0h0M1292.2 1073.0h0M1292.3 1077.0h0M1292.5 1081.0h0M1292.7 1085.0h0M1292.9 1089.0h0M1293.1 1093.0h0M1293.4 1097.0h0M1293.6 1101.0h0M1293.8 1105.0h0M1294.0 1109.0h0M1294.3 1112.9h0M1294.5 1116.9h0M1294.8 1120.9h0M1295.1 1124.9h0M1295.4 1128.9h0M1295.7 1132.9h0M1296.0 1136.9h0M1296.2 1140.9h0M1296.5 1144.9h0M1296.8 1148.9h0M1297.1 1152.8h0M1297.4 1156.8h0M1297.7 1160.8h0M1298.1 1164.8h0M1298.4 1168.8h0M1298.8 1172.8h0M1299.2 1176.8h0M1299.6 1180.7h0M1300.0 1184.7h0M1300.4 1188.7h0M1300.8 1192.7h0M1301.2 1196.7h0M1301.6 1200.6h0M1302.1 1204.6h0M1302.7 1208.6h0M1303.4 1212.5h0M1304.1 1216.4h0M1304.8 1220.4h0M1305.6 1224.3h0M1306.4 1228.2h0M1307.4 1232.1h0M1308.7 1235.9h0M1310.3 1239.5h0M1311.9 1243.2h0M1313.7 1246.7h0M1316.3 1249.7h0M1319.5 1252.1h0M1323.1 1253.8h0M1327.1 1254.3h0M1331.1 1254.5h0M1335.1 1254.7h0M1339.0 1254.7h0M1343.0 1253.9h0M1346.7 1252.6h0M1350.0 1250.5h0M1351.7 1246.9h0M1352.5 1243.0h0M1353.3 1239.1h0M1354.1 1235.1h0M1354.8 1231.2h0M1355.5 1227.3h0M1356.1 1223.3h0M1356.6 1219.3h0M1357.1 1215.4h0M1357.6 1211.4h0M1358.0 1207.4h0M1358.5 1203.4h0M1358.9 1199.5h0M1359.4 1195.5h0M1359.8 1191.5h0M1360.3 1187.6h0M1360.8 1183.6h0M1361.2 1179.6h0M1361.7 1175.6h0M1362.2 1171.7h0M1362.7 1167.7h0M1363.2 1163.7h0M1363.6 1159.7h0M1364.1 1155.8h0M1364.6 1151.8h0M1365.0 1147.8h0M1365.5 1143.9h0M1365.9 1139.9h0M1366.3 1135.9h0M1366.7 1131.9h0M1367.1 1127.9h0M1367.4 1124.0h0M1367.8 1120.0h0M1368.2 1116.0h0M1368.5 1112.0h0M1368.9 1108.0h0M1369.2 1104.0h0M1369.6 1100.1h0M1369.9 1096.1h0M1370.3 1092.1h0M1370.6 1088.1h0M1370.9 1084.1h0M1371.2 1080.1h0M1371.5 1076.1h0M1371.8 1072.1h0M1372.0 1068.1h0M1372.3 1064.2h0M1372.6 1060.2h0M1372.9 1056.2h0M1373.1 1052.2h0M1373.4 1048.2h0M1373.7 1044.2h0M1374.1 1040.2h0M1374.4 1036.2h0M1374.8 1032.3h0M1375.2 1028.3h0M1375.6 1024.3h0M1376.0 1020.3h0M1376.4 1016.3h0M1376.8 1012.4h0M1377.3 1008.4h0M1378.1 1004.5h0M1378.7 1000.5h0M1379.0 996.5h0M1379.2 992.5h0M1379.4 988.5h0M1379.5 984.5h0M1379.6 980.5h0M1379.8 976.5h0M1379.9 972.5h0M1380.0 968.5h0M1380.2 964.6h0M1380.3 960.6h0M1380.4 956.6h0M1380.6 952.6h0M1380.8 948.6h0M1381.0 944.6h0M1381.4 940.6h0M1381.8 936.6h0M1382.4 932.7h0M1383.1 928.7h0M1383.8 924.8h0M1384.6 920.9h0M1385.3 916.9h0M1386.7 897.0h0M1386.8 877.0h0M1387.0 857.0h0M1387.9 837.0h0M1389.1 817.0h0M1390.0 797.1h0M1390.8 777.1h0M1391.8 757.1h0M1393.3 737.2h0M1394.8 717.2h0M1396.4 697.3h0M1397.8 677.3h0M1398.5 657.4h0M1398.6 653.4h0M1398.7 649.4h0M1398.8 645.4h0M1398.9 641.4h0M1399.1 637.4h0M1399.2 633.4h0M1399.3 629.4h0M1399.4 625.4h0M1399.5 621.4h0M1399.6 617.4h0M1399.7 613.4h0M1399.8 609.4h0M1399.9 605.4h0M1400.1 601.4h0M1400.2 597.4h0M1400.5 593.4h0M1400.8 589.4h0M1401.2 585.4h0M1401.5 581.4h0M1402.0 577.5h0M1403.5 573.8h0M1406.5 571.1h0M1409.5 568.4h0M1412.3 565.7h0M1415.2 562.8h0M1417.7 559.7h0M1419.3 556.1h0M1420.6 552.3h0M1421.8 548.5h0M1422.9 544.7h0M1424.0 540.8h0M1424.9 536.9h0M1425.8 533.0h0M1426.7 529.1h0M1427.6 525.2h0M1428.5 521.3h0M1429.4 517.4h0M1430.4 513.5h0M1431.3 509.7h0M1432.2 505.8h0M1433.2 501.9h0M1434.1 498.0h0M1435.0 494.1h0M1435.9 490.2h0M1436.7 486.3h0M1437.5 482.4h0M1438.3 478.4h0M1439.0 474.5h0M1439.5 470.5h0M1440.0 466.6h0M1440.4 462.6h0M1440.9 458.6h0M1441.4 454.6h0M1442.0 450.7h0M1442.7 446.7h0M1443.3 442.8h0M1443.8 438.8h0M1444.0 434.8h0M1444.2 430.8h0M1444.4 426.8h0M1444.6 422.8h0M1444.8 418.9h0M1445.1 414.9h0M1445.4 410.9h0M1445.8 406.9h0M1446.2 402.9h0M1446.6 398.9h0M1447.0 395.0h0M1447.4 391.0h0M1447.8 387.0h0M1448.2 383.0h0M1448.6 379.0h0M1449.0 375.1h0M1449.4 371.1h0M1449.9 367.1h0M1450.5 363.1h0M1451.2 359.2h0M1451.9 355.3h0M1452.7 351.4h0M1453.5 347.4h0M1454.3 343.5h0M1455.2 339.6h0M1456.1 335.7h0M1457.0 331.8h0M1458.0 328.0h0M1459.0 324.1h0M1460.0 320.2h0M1461.0 316.3h0M1462.1 312.5h0M1463.3 308.7h0M1464.9 305.0h0M1467.3 303.9h0M1467.8 307.9h0M1468.2 311.9h0M1468.4 315.9h0M1468.7 319.9h0M1468.9 323.9h0M1469.2 327.9h0M1469.5 331.8h0M1469.7 335.8h0M1470.0 339.8h0M1470.3 343.8h0M1470.6 347.8h0M1470.9 351.8h0M1471.3 355.8h0M1471.6 359.8h0M1472.1 363.7h0M1472.7 367.7h0M1473.6 371.6h0M1474.5 375.5h0M1475.4 379.4h0M1476.4 383.3h0M1477.3 387.1h0M1478.3 391.0h0M1479.3 394.9h0M1480.2 398.8h0M1481.2 402.7h0M1482.2 406.5h0M1483.2 410.4h0M1484.1 414.3h0M1485.0 418.2h0M1485.8 422.1h0M1486.6 426.0h0M1487.4 430.0h0M1488.2 433.9h0M1488.9 437.8h0M1489.3 441.8h0M1489.7 445.8h0M1489.9 449.8h0M1490.1 453.8h0M1490.3 457.8h0M1490.6 461.8h0M1490.8 465.8h0M1491.0 469.7h0M1491.1 473.7h0M1491.3 477.7h0M1491.5 481.7h0M1491.7 485.7h0M1491.8 489.7h0M1492.0 493.7h0M1492.2 497.7h0M1492.3 501.7h0M1492.5 505.7h0M1492.7 509.7h0M1492.9 513.7h0M1493.2 517.7h0M1493.5 521.7h0M1493.8 525.7h0M1494.2 529.7h0M1494.5 533.6h0M1494.9 537.6h0M1495.3 541.6h0M1495.7 545.6h0M1496.0 549.6h0M1496.4 553.6h0M1496.8 557.5h0M1497.2 561.5h0M1497.6 565.5h0M1498.1 569.5h0M1498.5 573.4h0M1499.0 577.4h0M1499.4 581.4h0M1499.9 585.4h0M1500.3 589.3h0M1500.8 593.3h0M1501.2 597.3h0M1501.7 601.3h0M1502.1 605.2h0M1502.5 609.2h0M1502.9 613.2h0M1503.3 617.2h0M1503.7 621.2h0M1504.1 625.1h0M1504.5 629.1h0M1504.8 633.1h0M1505.2 637.1h0M1505.6 641.1h0M1506.1 645.0h0M1506.5 649.0h0M1506.9 653.0h0M1507.4 657.0h0M1507.8 660.9h0M1508.3 664.9h0M1508.7 668.9h0M1509.2 672.9h0M1509.6 676.8h0M1510.1 680.8h0M1510.5 684.8h0M1511.0 688.8h0M1511.5 692.7h0M1511.9 696.7h0M1512.4 700.7h0M1512.8 704.7h0M1513.2 708.6h0M1513.6 712.6h0M1514.0 716.6h0M1514.4 720.6h0M1514.8 724.6h0M1515.2 728.5h0M1515.5 732.5h0M1515.9 736.5h0M1516.2 740.5h0M1516.6 744.5h0M1516.9 748.5h0M1517.2 752.5h0M1517.6 756.4h0M1517.9 760.4h0M1518.3 764.4h0M1518.6 768.4h0M1519.0 772.4h0M1519.3 776.4h0M1519.6 780.4h0M1519.9 784.3h0M1520.2 788.3h0M1520.5 792.3h0M1520.8 796.3h0M1521.1 800.3h0M1521.3 804.3h0M1521.6 808.3h0M1521.8 812.3h0M1522.1 816.3h0M1522.3 820.3h0M1522.6 824.3h0M1522.8 828.2h0M1523.0 832.2h0M1523.3 836.2h0M1523.5 840.2h0M1523.8 844.2h0M1524.0 848.2h0M1524.2 852.2h0M1524.5 856.2h0M1524.7 860.2h0M1524.9 864.2h0M1525.1 868.2h0M1525.3 872.2h0M1525.5 876.2h0M1525.7 880.2h0M1525.9 884.2h0M1526.1 888.2h0M1526.3 892.2h0M1526.5 896.1h0M1526.7 900.1h0M1526.9 904.1h0M1527.1 908.1h0M1527.3 912.1h0M1527.5 916.1h0M1527.7 920.1h0M1527.9 924.1h0M1528.1 928.1h0M1528.2 932.1h0M1528.4 936.1h0M1528.6 940.1h0M1528.8 944.1h0M1529.0 948.1h0M1529.2 952.1h0M1529.4 956.1h0M1529.6 960.1h0M1529.8 964.1h0M1530.0 968.1h0M1530.2 972.1h0M1530.4 976.1h0M1530.6 980.0h0M1530.8 984.0h0M1531.0 988.0h0M1531.2 992.0h0M1531.5 996.0h0M1531.7 1000.0h0M1532.0 1004.0h0M1532.2 1008.0h0M1532.5 1012.0h0M1532.8 1016.0h0M1533.0 1020.0h0M1533.3 1024.0h0M1533.6 1028.0h0M1533.8 1031.9h0M1534.1 1035.9h0M1534.4 1039.9h0M1534.6 1043.9h0M1534.9 1047.9h0M1535.2 1051.9h0M1535.5 1055.9h0M1535.8 1059.9h0M1536.2 1063.9h0M1536.5 1067.8h0M1536.8 1071.8h0M1537.2 1075.8h0M1537.5 1079.8h0M1537.8 1083.8h0M1538.1 1087.8h0M1538.5 1091.8h0M1538.8 1095.7h0M1539.1 1099.7h0M1539.5 1103.7h0M1539.8 1107.7h0M1540.2 1111.7h0M1540.5 1115.7h0M1540.9 1119.7h0M1541.2 1123.6h0M1541.6 1127.6h0M1542.0 1131.6h0M1542.3 1135.6h0M1542.7 1139.6h0M1543.1 1143.6h0M1543.4 1147.5h0M1543.8 1151.5h0M1544.2 1155.5h0M1544.5 1159.5h0M1544.9 1163.5h0M1545.4 1167.4h0M1545.8 1171.4h0M1546.3 1175.4h0M1546.8 1179.4h0M1547.3 1183.3h0M1547.8 1187.3h0M1548.3 1191.3h0M1548.8 1195.2h0M1549.3 1199.2h0M1550.0 1203.1h0M1550.7 1207.1h0M1551.6 1211.0h0M1552.6 1214.9h0M1553.6 1218.7h0M1554.6 1222.6h0M1555.6 1226.5h0M1556.8 1230.3h0M1558.2 1234.0h0M1560.1 1237.5h0M1562.1 1241.0h0M1564.1 1244.5h0M1566.5 1247.6h0M1569.8 1249.9h0M1573.4 1251.7h0M1577.0 1253.3h0M1581.0 1253.8h0M1585.0 1253.6h0M1589.0 1253.3h0M1592.8 1252.5h0M1595.5 1249.7h0M1597.2 1246.0h0M1598.8 1242.4h0M1600.0 1238.6h0M1600.7 1234.6h0M1601.3 1230.7h0M1601.9 1226.7h0M1602.5 1222.8h0M1603.0 1218.8h0M1603.5 1214.8h0M1604.0 1210.9h0M1604.4 1206.9h0M1604.7 1202.9h0M1605.0 1198.9h0M1605.4 1194.9h0M1605.7 1190.9h0M1606.0 1186.9h0M1606.3 1183.0h0M1606.6 1179.0h0M1607.0 1175.0h0M1607.3 1171.0h0M1607.6 1167.0h0M1607.9 1163.0h0M1608.2 1159.0h0M1608.6 1155.1h0M1608.9 1151.1h0M1609.2 1147.1h0M1609.5 1143.1h0M1609.8 1139.1h0M1610.2 1135.1h0M1610.5 1131.1h0M1610.8 1127.1h0M1611.1 1123.2h0M1611.4 1119.2h0M1611.7 1115.2h0M1612.0 1111.2h0M1612.3 1107.2h0M1612.6 1103.2h0M1612.9 1099.2h0M1613.2 1095.2h0M1613.5 1091.2h0M1613.7 1087.2h0M1614.0 1083.3h0M1614.3 1079.3h0M1614.6 1075.3h0M1614.8 1071.3h0M1615.1 1067.3h0M1615.4 1063.3h0M1615.6 1059.3h0M1615.9 1055.3h0M1616.2 1051.3h0M1616.4 1047.3h0M1616.6 1043.3h0M1616.9 1039.4h0M1617.1 1035.4h0M1617.4 1031.4h0M1617.6 1027.4h0M1617.9 1023.4h0M1618.1 1019.4h0M1618.4 1015.4h0M1618.6 1011.4h0M1618.9 1007.4h0M1619.1 1003.4h0M1619.3 999.4h0M1619.6 995.4h0M1619.8 991.4h0M1620.0 987.4h0M1620.3 983.5h0M1620.5 979.5h0M1620.7 975.5h0M1620.9 971.5h0M1621.1 967.5h0M1621.4 963.5h0M1621.6 959.5h0M1621.8 955.5h0M1622.0 951.5h0M1622.2 947.5h0M1622.4 943.5h0M1622.6 939.5h0M1622.9 935.5h0M1623.1 931.5h0M1623.3 927.5h0M1623.5 923.5h0M1623.8 919.6h0M1624.0 915.6h0M1624.3 911.6h0M1624.6 907.6h0M1624.9 903.6h0M1625.2 899.6h0M1625.5 895.6h0M1625.8 891.6h0M1626.1 887.6h0M1626.5 883.7h0M1626.8 879.7h0M1627.1 875.7h0M1627.4 871.7h0M1627.8 867.7h0M1628.1 863.7h0M1628.4 859.7h0M1628.7 855.7h0M1629.0 851.8h0M1629.4 847.8h0M1629.7 843.8h0M1630.0 839.8h0M1630.3 835.8h0M1630.7 831.8h0M1631.0 827.8h0M1631.3 823.8h0M1631.6 819.9h0M1631.9 815.9h0M1632.2 811.9h0M1632.6 807.9h0M1632.9 803.9h0M1633.2 799.9h0M1633.5 795.9h0M1633.8 791.9h0M1634.2 788.0h0M1634.5 784.0h0M1634.8 780.0h0M1635.1 776.0h0M1635.4 772.0h0M1635.7 768.0h0M1636.0 764.0h0M1636.3 760.0h0M1636.6 756.1h0M1636.8 752.1h0M1637.1 748.1h0M1637.3 744.1h0M1637.6 740.1h0M1637.8 736.1h0M1638.1 732.1h0M1638.3 728.1h0M1638.6 724.1h0M1638.8 720.1h0M1639.1 716.1h0M1639.4 712.1h0M1639.6 708.2h0M1639.9 704.2h0M1640.2 700.2h0M1640.4 696.2h0M1640.7 692.2h0M1641.0 688.2h0M1641.3 684.2h0M1641.6 680.2h0M1641.8 676.2h0M1642.1 672.2h0M1642.4 668.2h0M1642.7 664.3h0M1642.9 660.3h0M1643.1 656.3h0M1643.4 652.3h0M1643.6 648.3h0M1643.8 644.3h0M1644.0 640.3h0M1644.2 636.3h0M1644.4 632.3h0M1644.6 628.3h0M1644.8 624.3h0M1645.0 620.3h0M1645.2 616.3h0M1645.4 612.3h0M1645.6 608.3h0M1645.9 604.3h0M1646.1 600.4h0M1646.4 596.4h0M1646.8 592.4h0M1647.2 588.4h0M1647.6 584.4h0M1648.0 580.4h0M1648.4 576.5h0M1648.8 572.5h0M1649.2 568.5h0M1649.5 564.5h0M1649.9 560.5h0M1650.3 556.6h0M1650.7 552.6h0M1651.3 548.6h0M1653.8 547.7h0M1656.4 550.8h0M1659.0 553.8h0M1661.7 556.7h0M1664.6 559.6h0M1667.4 562.4h0M1670.4 565.0h0M1673.9 567.0h0M1677.5 568.7h0M1681.2 569.2h0M1682.9 565.9h0M1683.3 561.9h0M1683.5 557.9h0M1683.7 553.9h0M1684.0 549.9h0M1684.2 545.9h0M1684.4 541.9h0M1684.6 537.9h0M1684.8 533.9h0M1685.1 529.9h0M1685.4 525.9h0M1685.8 522.0h0M1686.2 518.0h0M1686.6 514.0h0M1687.0 510.0h0M1687.4 506.0h0M1687.9 502.1h0M1688.6 498.1h0M1689.4 494.2h0M1690.4 490.3h0M1691.4 486.5h0M1692.3 482.6h0M1693.3 478.7h0M1694.2 474.8h0M1695.0 470.9h0M1695.9 467.0h0M1696.7 463.1h0M1697.5 459.1h0M1698.2 455.2h0M1698.9 451.3h0M1699.6 447.3h0M1700.3 443.4h0M1701.1 439.5h0M1703.4 437.6h0M1706.3 440.4h0M1709.4 443.0h0M1712.6 444.9h0M1714.3 441.5h0M1715.4 437.6h0M1716.5 433.8h0M1717.4 429.9h0M1718.2 425.9h0M1719.0 422.0h0M1719.8 418.1h0M1720.6 414.2h0M1721.4 410.3h0M1722.4 406.4h0M1723.4 402.5h0M1724.4 398.6h0M1725.6 394.8h0M1727.3 391.2h0M1729.4 393.9h0M1731.0 397.5h0M1732.2 401.4h0M1733.1 405.3h0M1733.8 409.2h0M1734.6 413.1h0M1735.4 417.0h0M1736.2 420.9h0M1737.1 424.8h0M1738.1 428.7h0M1739.0 432.6h0M1739.8 436.5h0M1740.5 440.5h0M1741.0 444.4h0M1741.6 448.4h0M1742.1 452.4h0M1742.6 456.3h0M1743.1 460.3h0M1743.5 464.3h0M1743.9 468.3h0M1744.3 472.2h0M1744.7 476.2h0M1745.1 480.2h0M1745.4 484.2h0M1745.8 488.2h0M1746.2 492.1h0M1746.6 496.1h0M1747.0 500.1h0M1747.4 504.1h0M1747.8 508.1h0M1748.2 512.0h0M1748.6 516.0h0M1749.0 520.0h0M1749.4 524.0h0M1749.8 528.0h0M1750.2 531.9h0M1750.6 535.9h0M1751.0 539.9h0M1751.5 543.9h0M1751.9 547.9h0M1752.2 551.8h0M1752.5 555.8h0M1752.8 559.8h0M1753.0 563.8h0M1753.3 567.8h0M1753.5 571.8h0M1753.7 575.8h0M1753.9 579.8h0M1754.1 583.8h0M1754.3 587.8h0M1754.6 591.8h0M1754.8 595.8h0M1755.2 599.8h0M1755.6 603.7h0M1756.2 607.7h0M1756.7 611.6h0M1757.3 615.6h0M1757.8 619.6h0M1758.3 623.5h0M1758.7 627.5h0M1759.1 631.5h0M1759.5 635.5h0M1759.8 639.5h0M1760.2 643.4h0M1760.6 647.4h0M1761.0 651.4h0M1761.4 655.4h0M1761.7 659.4h0M1762.1 663.4h0M1762.5 667.3h0M1762.8 671.3h0M1763.2 675.3h0M1763.5 679.3h0M1763.8 683.3h0M1764.1 687.3h0M1764.3 691.3h0M1764.5 695.3h0M1764.8 699.3h0M1765.0 703.3h0M1765.2 707.2h0M1765.4 711.2h0M1765.6 715.2h0M1765.9 719.2h0M1766.1 723.2h0M1766.3 727.2h0M1766.5 731.2h0M1766.7 735.2h0M1766.9 739.2h0M1767.2 743.2h0M1767.4 747.2h0M1767.6 751.2h0M1767.8 755.2h0M1768.0 759.2h0M1768.2 763.2h0M1768.4 767.2h0M1768.6 771.2h0M1768.8 775.1h0M1769.1 779.1h0M1769.3 783.1h0M1769.5 787.1h0M1769.7 791.1h0M1769.9 795.1h0M1770.1 799.1h0M1770.3 803.1h0M1770.5 807.1h0M1770.7 811.1h0M1770.9 815.1h0M1771.2 819.1h0M1771.4 823.1h0M1771.6 827.1h0M1771.8 831.1h0M1772.0 835.1h0M1772.2 839.1h0M1772.5 843.1h0M1772.7 847.0h0M1772.9 851.0h0M1773.1 855.0h0M1773.3 859.0h0M1773.6 863.0h0M1773.8 867.0h0M1774.0 871.0h0M1774.2 875.0h0M1774.4 879.0h0M1774.6 883.0h0M1774.8 887.0h0M1775.0 891.0h0M1775.2 895.0h0M1775.4 899.0h0M1775.6 903.0h0M1775.8 907.0h0M1776.0 911.0h0M1776.2 915.0h0M1776.4 919.0h0M1776.6 922.9h0M1776.8 926.9h0M1777.0 930.9h0M1777.2 934.9h0M1777.4 938.9h0M1777.6 942.9h0M1777.8 946.9h0M1778.1 950.9h0M1778.3 954.9h0M1778.5 958.9h0M1778.7 962.9h0M1778.9 966.9h0M1779.1 970.9h0M1779.4 974.9h0M1779.6 978.9h0M1779.8 982.9h0M1780.0 986.9h0M1780.2 990.8h0M1780.5 994.8h0M1780.7 998.8h0M1780.9 1002.8h0M1781.2 1006.8h0M1781.4 1010.8h0M1781.7 1014.8h0M1782.0 1018.8h0M1782.3 1022.8h0M1782.6 1026.8h0M1782.9 1030.8h0M1783.2 1034.8h0M1783.5 1038.7h0M1783.7 1042.7h0M1784.0 1046.7h0M1784.3 1050.7h0M1784.6 1054.7h0M1784.9 1058.7h0M1785.2 1062.7h0M1785.5 1066.7h0M1785.9 1070.6h0M1786.2 1074.6h0M1786.5 1078.6h0M1786.8 1082.6h0M1787.1 1086.6h0M1787.4 1090.6h0M1787.8 1094.6h0M1788.1 1098.6h0M1788.4 1102.5h0M1788.7 1106.5h0M1789.0 1110.5h0M1789.4 1114.5h0M1789.7 1118.5h0M1790.0 1122.5h0M1790.3 1126.5h0M1790.6 1130.5h0M1791.0 1134.4h0M1791.3 1138.4h0M1791.6 1142.4h0M1791.9 1146.4h0M1792.2 1150.4h0M1792.6 1154.4h0M1792.9 1158.4h0M1793.3 1162.3h0M1793.6 1166.3h0M1794.0 1170.3h0M1794.4 1174.3h0M1794.8 1178.3h0M1795.2 1182.3h0M1795.6 1186.2h0M1796.0 1190.2h0M1796.5 1194.2h0M1797.0 1198.2h0M1797.6 1202.1h0M1798.3 1206.0h0M1799.1 1210.0h0M1800.0 1213.9h0M1800.8 1217.8h0M1801.7 1221.7h0M1802.6 1225.6h0M1803.9 1229.4h0M1805.6 1233.0h0M1807.5 1236.5h0M1809.4 1240.0h0M1811.7 1243.3h0M1814.5 1246.2h0M1817.4 1248.8h0M1820.4 1251.5h0M1824.0 1253.3h0M1827.9 1254.2h0M1831.8 1254.8h0M1835.8 1254.8h0M1839.8 1254.6h0M1843.8 1254.3h0M1847.8 1253.9h0M1851.0 1251.7h0M1852.9 1248.2h0M1854.7 1244.6h0M1855.8 1240.8h0M1856.5 1236.8h0M1857.0 1232.9h0M1857.4 1228.9h0M1857.8 1224.9h0M1858.3 1220.9h0M1858.7 1217.0h0M1859.1 1213.0h0M1859.5 1209.0h0M1859.9 1205.0h0M1860.2 1201.0h0M1860.6 1197.1h0M1860.9 1193.1h0M1861.2 1189.1h0M1861.4 1185.1h0M1861.7 1181.1h0M1862.0 1177.1h0M1862.3 1173.1h0M1862.6 1169.1h0M1862.9 1165.1h0M1863.2 1161.2h0M1863.5 1157.2h0M1863.8 1153.2h0M1864.0 1149.2h0M1864.3 1145.2h0M1864.6 1141.2h0M1864.9 1137.2h0M1865.2 1133.2h0M1865.5 1129.2h0M1865.7 1125.2h0M1866.0 1121.3h0M1866.3 1117.3h0M1866.6 1113.3h0M1866.9 1109.3h0M1867.1 1105.3h0M1867.4 1101.3h0M1867.7 1097.3h0M1868.0 1093.3h0M1868.2 1089.3h0M1868.5 1085.3h0M1868.8 1081.4h0M1869.1 1077.4h0M1869.4 1073.4h0M1869.6 1069.4h0M1869.9 1065.4h0M1870.2 1061.4h0M1870.5 1057.4h0M1870.7 1053.4h0M1871.0 1049.4h0M1871.2 1045.4h0M1871.4 1041.4h0M1871.6 1037.4h0M1871.8 1033.4h0M1872.0 1029.5h0M1872.2 1025.5h0M1872.4 1021.5h0M1872.6 1017.5h0M1872.8 1013.5h0M1873.0 1009.5h0M1873.2 1005.5h0M1873.4 1001.5h0M1873.6 997.5h0M1873.8 993.5h0M1874.1 989.5h0M1874.4 985.5h0M1874.6 981.5h0M1874.9 977.5h0M1875.2 973.6h0M1875.6 969.6h0M1875.9 965.6h0M1876.2 961.6h0M1876.5 957.6h0M1876.8 953.6h0M1877.1 949.6h0M1877.5 945.6h0M1877.8 941.7h0M1878.1 937.7h0M1878.4 933.7h0M1878.8 929.7h0M1879.1 925.7h0M1879.4 921.7h0M1879.8 917.7h0M1880.2 913.8h0M1880.5 909.8h0M1881.0 905.8h0M1881.4 901.8h0M1881.8 897.8h0M1882.3 893.9h0M1882.7 889.9h0M1883.2 885.9h0M1883.7 881.9h0M1884.1 878.0h0M1884.5 874.0h0M1884.9 870.0h0M1885.3 866.0h0M1885.5 862.0h0M1885.8 858.0h0M1886.1 854.1h0M1886.4 850.1h0M1886.6 846.1h0M1886.8 842.1h0M1887.0 838.1h0M1887.2 834.1h0M1887.4 830.1h0M1887.6 826.1h0M1887.8 822.1h0M1888.0 818.1h0M1888.2 814.1h0M1888.4 810.1h0M1888.6 806.1h0M1888.8 802.1h0M1889.0 798.1h0M1889.2 794.1h0M1889.4 790.1h0M1889.6 786.1h0M1889.8 782.2h0M1890.0 778.2h0M1890.2 774.2h0M1890.4 770.2h0M1890.6 766.2h0M1890.9 762.2h0M1891.1 758.2h0M1891.3 754.2h0M1891.5 750.2h0M1891.7 746.2h0M1891.9 742.2h0M1892.1 738.2h0M1892.3 734.2h0M1892.5 730.2h0M1892.7 726.2h0M1892.9 722.2h0M1893.1 718.2h0M1893.4 714.2h0M1893.6 710.3h0M1893.8 706.3h0M1894.0 702.3h0M1894.2 698.3h0M1894.4 694.3h0M1894.6 690.3h0M1894.8 686.3h0M1895.0 682.3h0M1895.2 678.3h0M1895.5 674.3h0M1895.7 670.3h0M1895.9 666.3h0M1896.1 662.3h0M1896.3 658.3h0M1896.5 654.3h0M1896.7 650.3h0M1896.9 646.3h0M1897.1 642.3h0M1897.3 638.3h0M1897.5 634.4h0M1897.7 630.4h0M1897.9 626.4h0M1898.1 622.4h0M1898.3 618.4h0M1898.5 614.4h0M1898.7 610.4h0M1898.9 606.4h0M1899.2 602.4h0M1899.5 598.4h0M1899.8 594.4h0M1900.1 590.4h0M1900.4 586.4h0M1900.7 582.5h0M1901.0 578.5h0M1901.4 574.5h0M1901.7 570.5h0M1902.0 566.5h0M1902.3 562.5h0M1902.7 558.5h0M1903.2 554.6h0M1903.6 550.6h0M1904.2 546.6h0M1904.7 542.7h0M1905.4 538.7h0M1906.0 534.8h0M1906.6 530.8h0M1907.2 526.9h0M1907.8 522.9h0M1908.5 519.0h0M1909.4 515.1h0M1910.6 511.2h0M1912.0 507.5h0M1913.5 503.8h0M1915.0 500.1h0M1916.4 496.4h0M1917.8 492.6h0M1919.1 488.8h0M1920.3 485.0h0M1921.5 481.2h0M1922.3 477.3h0M1922.9 473.3h0M1923.4 469.3h0M1923.9 465.4h0M1924.5 461.4h0M1925.0 457.5h0M1925.5 453.5h0M1926.1 449.5h0M1926.7 445.6h0M1927.3 441.6h0M1928.0 437.7h0M1928.6 433.7h0M1929.3 429.8h0M1930.2 425.9h0M1931.4 422.1h0M1932.9 418.4h0M1934.5 414.7h0M1936.1 411.0h0M1937.7 407.4h0M1939.1 403.6h0M1940.3 399.8h0M1941.2 395.9h0M1942.0 392.0h0M1942.8 388.1h0M1943.6 384.2h0M1944.3 380.2h0M1945.0 376.3h0M1945.6 372.3h0M1946.1 368.4h0M1946.6 364.4h0M1947.1 360.4h0M1947.6 356.4h0M1948.1 352.5h0M1948.6 348.5h0M1949.2 344.6h0M1949.9 340.6h0M1950.7 336.7h0M1951.4 332.8h0M1952.2 328.9h0M1953.0 324.9h0M1954.0 321.1h0M1955.3 317.3h0M1956.9 313.6h0M1958.6 310.0h0M1960.0 307.0h0M938.0 418.0h0M942.0 417.4h0M945.8 416.5h0M949.4 414.8h0M952.1 411.9h0M954.1 408.4h0M955.9 404.9h0M957.2 401.1h0M958.4 397.3h0M959.6 393.4h0M960.0 392.0h0M706.0 456.0h0M707.9 452.5h0M709.9 449.0h0M711.8 445.5h0M713.6 441.9h0M715.0 439.0h0M581.0 1238.0h0M584.0 1240.6h0M587.0 1243.3h0M590.5 1245.1h0M594.5 1245.8h0M598.4 1246.4h0M602.0 1247.0h0" stroke="#a9a9a9" stroke-width="18.7" stroke-linecap="round" fill="none"/>
<path d="M487.0 310.0h0M490.1 307.5h0M493.2 305.0h0M496.1 302.2h0M498.9 299.3h0M501.8 298.1h0M503.4 301.7h0M504.4 305.6h0M505.4 309.4h0M506.3 313.3h0M507.2 317.2h0M507.9 321.2h0M508.4 325.1h0M508.9 329.1h0M509.5 333.1h0M510.0 337.0h0M510.4 341.0h0M510.8 345.0h0M511.1 349.0h0M511.3 353.0h0M511.5 357.0h0M511.7 361.0h0M511.9 365.0h0M512.1 368.9h0M512.3 372.9h0M512.5 376.9h0M512.7 380.9h0M512.8 384.9h0M513.0 388.9h0M513.2 392.9h0M513.4 396.9h0M513.6 400.9h0M513.9 404.9h0M514.1 408.9h0M514.3 412.9h0M514.5 416.9h0M514.8 420.9h0M515.0 424.9h0M515.2 428.9h0M515.4 432.9h0M515.7 436.9h0M515.9 440.8h0M516.2 444.8h0M516.4 448.8h0M516.7 452.8h0M517.0 456.8h0M517.3 460.8h0M517.6 464.8h0M517.9 468.8h0M518.1 472.8h0M518.4 476.8h0M518.6 480.8h0M518.9 484.7h0M519.1 488.7h0M519.3 492.7h0M519.5 496.7h0M519.6 500.7h0M519.8 504.7h0M520.0 508.7h0M520.2 512.7h0M520.4 516.7h0M520.6 520.7h0M520.8 524.7h0M521.0 528.7h0M521.2 532.7h0M521.4 536.7h0M521.5 540.7h0M521.7 544.7h0M521.9 548.7h0M522.1 552.7h0M522.3 556.7h0M522.5 560.7h0M522.7 564.7h0M522.9 568.7h0M523.0 572.6h0M523.2 576.6h0M523.4 580.6h0M523.6 584.6h0M523.8 588.6h0M524.0 592.6h0M524.1 596.6h0M524.3 600.6h0M524.5 604.6h0M524.6 608.6h0M524.8 612.6h0M524.9 616.6h0M525.1 620.6h0M525.2 624.6h0M525.3 628.6h0M525.5 632.6h0M525.6 636.6h0M525.8 640.6h0M525.9 644.6h0M526.1 648.6h0M526.3 652.6h0M526.5 656.6h0M526.7 660.6h0M526.9 664.6h0M527.1 668.6h0M527.3 672.6h0M527.6 676.5h0M527.8 680.5h0M528.0 684.5h0M528.2 688.5h0M528.4 692.5h0M528.6 696.5h0M528.9 700.5h0M529.1 704.5h0M529.3 708.5h0M529.5 712.5h0M529.7 716.5h0M529.9 720.5h0M530.2 724.5h0M530.4 728.5h0M530.6 732.5h0M530.9 736.5h0M531.1 740.4h0M531.4 744.4h0M531.7 748.4h0M532.0 752.4h0M532.3 756.4h0M532.6 760.4h0M533.0 764.4h0M533.3 768.4h0M533.6 772.4h0M533.9 776.3h0M534.2 780.3h0M534.6 784.3h0M535.0 788.3h0M535.4 792.3h0M535.8 796.2h0M536.2 800.2h0M536.7 804.2h0M537.2 808.2h0M537.7 812.1h0M538.1 816.1h0M538.6 820.1h0M539.1 824.1h0M539.6 828.0h0M540.0 832.0h0M540.5 836.0h0M540.9 840.0h0M541.3 843.9h0M541.6 847.9h0M542.0 851.9h0M542.3 855.9h0M542.6 859.9h0M542.9 863.9h0M543.3 867.8h0M543.6 871.8h0M543.9 875.8h0M544.2 879.8h0M544.6 883.8h0M544.9 887.8h0M545.1 891.8h0M545.4 895.8h0M545.7 899.8h0M545.9 903.8h0M546.2 907.7h0M546.4 911.7h0M546.7 915.7h0M546.9 919.7h0M547.2 923.7h0M547.5 927.7h0M547.8 931.7h0M548.1 935.7h0M548.4 939.7h0M548.7 943.7h0M549.1 947.6h0M549.4 951.6h0M549.7 955.6h0M550.0 959.6h0M550.4 963.6h0M550.7 967.6h0M551.0 971.6h0M551.4 975.5h0M551.7 979.5h0M552.0 983.5h0M552.4 987.5h0M552.7 991.5h0M553.1 995.5h0M553.4 999.5h0M553.8 1003.4h0M554.1 1007.4h0M554.5 1011.4h0M554.8 1015.4h0M555.2 1019.4h0M555.5 1023.4h0M555.9 1027.3h0M556.2 1031.3h0M556.6 1035.3h0M557.0 1039.3h0M557.5 1043.3h0M558.0 1047.2h0M558.5 1051.2h0M559.1 1055.2h0M559.6 1059.1h0M560.0 1063.1h0M560.4 1067.1h0M560.8 1071.1h0M561.2 1075.0h0M561.6 1079.0h0M562.0 1083.0h0M562.4 1087.0h0M562.8 1091.0h0M563.1 1094.9h0M563.5 1098.9h0M563.9 1102.9h0M564.3 1106.9h0M564.7 1110.9h0M565.0 1114.9h0M565.4 1118.8h0M565.8 1122.8h0M566.2 1126.8h0M566.6 1130.8h0M567.0 1134.8h0M567.4 1138.7h0M567.8 1142.7h0M568.2 1146.7h0M568.6 1150.7h0M569.0 1154.7h0M569.4 1158.6h0M569.8 1162.6h0M570.2 1166.6h0M570.7 1170.6h0M571.2 1174.5h0M571.8 1178.5h0M572.5 1182.4h0M573.3 1186.3h0M574.1 1190.3h0M574.9 1194.2h0M575.7 1198.1h0M576.6 1202.0h0M577.6 1205.9h0M579.0 1209.6h0M580.5 1213.3h0M582.7 1216.6h0M586.3 1218.1h0M590.2 1219.1h0M593.0 1221.8h0M594.8 1225.4h0M596.6 1229.0h0M598.5 1232.5h0M600.9 1235.7h0M603.4 1238.8h0M606.9 1239.3h0M610.3 1237.2h0M612.5 1233.8h0M614.2 1230.2h0M615.9 1226.6h0M617.0 1222.8h0M617.9 1218.9h0M618.6 1214.9h0M619.3 1211.0h0M620.0 1207.1h0M620.7 1203.1h0M621.3 1199.2h0M622.0 1195.2h0M622.6 1191.3h0M623.2 1187.3h0M623.8 1183.4h0M624.3 1179.4h0M624.8 1175.4h0M625.3 1171.5h0M625.8 1167.5h0M626.3 1163.5h0M626.8 1159.5h0M627.3 1155.6h0M627.8 1151.6h0M628.3 1147.6h0M628.8 1143.7h0M629.2 1139.7h0M629.7 1135.7h0M630.1 1131.7h0M630.5 1127.8h0M630.9 1123.8h0M631.3 1119.8h0M631.7 1115.8h0M632.1 1111.8h0M632.5 1107.9h0M632.9 1103.9h0M633.3 1099.9h0M633.7 1095.9h0M634.1 1091.9h0M634.4 1088.0h0M634.8 1084.0h0M635.1 1080.0h0M635.4 1076.0h0M635.7 1072.0h0M636.0 1068.0h0M636.3 1064.0h0M636.6 1060.0h0M636.9 1056.1h0M637.2 1052.1h0M637.5 1048.1h0M637.8 1044.1h0M638.1 1040.1h0M638.3 1036.1h0M638.6 1032.1h0M638.9 1028.1h0M639.2 1024.1h0M639.4 1020.1h0M639.7 1016.2h0M640.0 1012.2h0M640.2 1008.2h0M640.5 1004.2h0M640.8 1000.2h0M641.0 996.2h0M641.3 992.2h0M641.5 988.2h0M641.8 984.2h0M642.0 980.2h0M642.3 976.2h0M642.5 972.2h0M642.8 968.3h0M643.0 964.3h0M643.3 960.3h0M643.5 956.3h0M643.8 952.3h0M644.0 948.3h0M644.3 944.3h0M644.5 940.3h0M644.7 936.3h0M645.0 932.3h0M645.2 928.3h0M645.4 924.3h0M645.6 920.3h0M645.8 916.3h0M646.0 912.3h0M646.2 908.4h0M646.5 904.4h0M646.8 900.4h0M647.3 896.4h0M648.2 892.5h0M650.1 889.0h0M652.1 885.6h0M654.9 882.7h0M658.1 880.3h0M659.5 876.6h0M660.3 872.7h0M660.8 868.7h0M661.3 864.8h0M661.8 860.8h0M662.3 856.8h0M662.8 852.9h0M663.3 848.9h0M663.8 844.9h0M664.1 840.9h0M664.5 837.0h0M664.8 833.0h0M665.0 829.0h0M665.2 825.0h0M665.4 821.0h0M665.6 817.0h0M665.8 813.0h0M666.0 809.0h0M666.2 805.0h0M666.4 801.0h0M666.6 797.0h0M666.8 793.0h0M667.0 789.0h0M667.2 785.0h0M667.4 781.0h0M667.6 777.0h0M667.8 773.0h0M668.0 769.0h0M668.2 765.1h0M668.4 761.1h0M668.6 757.1h0M668.8 753.1h0M669.0 749.1h0M669.2 745.1h0M669.4 741.1h0M669.6 737.1h0M669.8 733.1h0M670.0 729.1h0M670.2 725.1h0M670.4 721.1h0M670.6 717.1h0M670.8 713.1h0M671.0 709.1h0M671.2 705.1h0M671.4 701.1h0M671.6 697.1h0M671.8 693.1h0M671.9 689.1h0M672.1 685.1h0M672.2 681.1h0M672.3 677.1h0M672.3 673.2h0M672.4 669.2h0M672.5 665.2h0M672.6 661.2h0M672.7 657.2h0M672.7 653.2h0M672.8 649.2h0M672.9 645.2h0M673.1 641.2h0M673.2 637.2h0M673.4 633.2h0M673.6 629.2h0M673.8 625.2h0M674.1 621.2h0M674.3 617.2h0M674.5 613.2h0M674.8 609.2h0M675.0 605.2h0M675.2 601.2h0M675.5 597.2h0M675.7 593.2h0M675.9 589.2h0M676.2 585.2h0M676.4 581.3h0M676.6 577.3h0M676.9 573.3h0M677.1 569.3h0M677.4 565.3h0M677.7 561.3h0M678.1 557.3h0M678.6 553.3h0M679.1 549.4h0M679.8 545.4h0M680.5 541.5h0M681.3 537.6h0M682.1 533.7h0M682.9 529.7h0M683.6 525.8h0M684.4 521.9h0M685.2 518.0h0M686.0 514.1h0M686.8 510.1h0M687.7 506.2h0M688.7 502.4h0M690.1 498.6h0M691.5 494.9h0M692.9 491.1h0M694.0 487.3h0M695.0 483.4h0M695.9 479.5h0M696.7 475.6h0M697.6 471.7h0M698.5 467.8h0M699.4 463.9h0M700.3 460.0h0M701.1 456.1h0M702.0 452.2h0M702.9 448.3h0M703.8 444.4h0M704.7 440.5h0M705.7 436.6h0M706.8 432.8h0M707.8 428.9h0M708.8 425.0h0M709.9 421.2h0M711.5 417.5h0M713.5 414.1h0M716.1 411.0h0M718.7 408.0h0M721.2 404.9h0M723.8 401.8h0M726.4 398.8h0M729.0 395.7h0M731.5 392.7h0M734.1 389.6h0M734.2 389.5h0M733.3 319.0h0M735.0 315.4h0M736.7 311.8h0M739.2 308.6h0M741.1 310.8h0M741.9 314.7h0M742.7 318.6h0M743.5 322.6h0M744.1 326.5h0M744.7 330.5h0M745.2 334.4h0M745.7 338.4h0M746.2 342.4h0M746.7 346.3h0M747.2 350.3h0M747.7 354.3h0M748.2 358.2h0M748.7 362.2h0M749.2 366.2h0M749.7 370.1h0M750.2 374.1h0M750.7 378.1h0M751.2 382.1h0M751.7 386.0h0M752.2 390.0h0M752.7 394.0h0M753.1 397.9h0M753.6 401.9h0M754.1 405.9h0M754.5 409.9h0M755.0 413.8h0M755.4 417.8h0M755.8 421.8h0M756.3 425.8h0M756.7 429.7h0M757.1 433.7h0M757.5 437.7h0M757.9 441.7h0M758.3 445.7h0M758.7 449.6h0M759.1 453.6h0M759.5 457.6h0M759.9 461.6h0M760.3 465.6h0M760.7 469.5h0M761.1 473.5h0M761.5 477.5h0M761.9 481.5h0M762.2 485.5h0M762.6 489.4h0M763.0 493.4h0M763.4 497.4h0M763.8 501.4h0M764.2 505.4h0M764.6 509.3h0M765.0 513.3h0M765.3 517.3h0M765.7 521.3h0M766.0 525.3h0M766.4 529.3h0M766.7 533.2h0M767.1 537.2h0M767.4 541.2h0M767.7 545.2h0M768.0 549.2h0M768.3 553.2h0M768.6 557.2h0M768.9 561.2h0M769.2 565.2h0M769.4 569.1h0M769.7 573.1h0M770.0 577.1h0M770.3 581.1h0M770.6 585.1h0M770.9 589.1h0M771.2 593.1h0M771.5 597.1h0M771.8 601.1h0M772.1 605.0h0M772.4 609.0h0M772.7 613.0h0M773.0 617.0h0M773.4 621.0h0M773.7 625.0h0M774.0 629.0h0M774.3 633.0h0M774.6 636.9h0M774.9 640.9h0M775.2 644.9h0M775.5 648.9h0M775.8 652.9h0M776.1 656.9h0M776.4 660.9h0M776.6 664.9h0M776.9 668.9h0M777.2 672.9h0M777.4 676.8h0M777.7 680.8h0M778.0 684.8h0M778.3 688.8h0M778.5 692.8h0M778.8 696.8h0M779.1 700.8h0M779.3 704.8h0M779.6 708.8h0M779.9 712.8h0M780.1 716.8h0M780.4 720.7h0M780.7 724.7h0M780.9 728.7h0M781.2 732.7h0M781.5 736.7h0M781.7 740.7h0M782.0 744.7h0M782.3 748.7h0M782.5 752.7h0M782.8 756.7h0M783.1 760.7h0M783.4 764.6h0M783.6 768.6h0M783.9 772.6h0M784.2 776.6h0M784.4 780.6h0M784.7 784.6h0M785.0 788.6h0M785.2 792.6h0M785.5 796.6h0M785.8 800.6h0M786.0 804.6h0M786.3 808.6h0M786.6 812.5h0M786.8 816.5h0M787.1 820.5h0M787.4 824.5h0M787.6 828.5h0M787.9 832.5h0M788.2 836.5h0M788.4 840.5h0M788.7 844.5h0M789.0 848.5h0M789.2 852.5h0M789.5 856.4h0M789.8 860.4h0M790.0 864.4h0M790.3 868.4h0M790.6 872.4h0M790.8 876.4h0M791.1 880.4h0M791.3 884.4h0M791.6 888.4h0M791.8 892.4h0M792.0 896.4h0M792.2 900.4h0M792.4 904.4h0M792.6 908.3h0M792.8 912.3h0M793.0 916.3h0M793.2 920.3h0M793.4 924.3h0M793.6 928.3h0M793.8 932.3h0M794.0 936.3h0M794.2 940.3h0M794.4 944.3h0M794.6 948.3h0M794.8 952.3h0M795.0 956.3h0M795.2 960.3h0M795.4 964.3h0M795.5 968.3h0M795.7 972.3h0M795.8 976.3h0M796.0 980.3h0M796.1 984.3h0M796.3 988.3h0M796.4 992.3h0M796.6 996.3h0M796.8 1000.3h0M797.0 1004.2h0M797.2 1008.2h0M797.4 1012.2h0M797.7 1016.2h0M797.9 1020.2h0M798.1 1024.2h0M798.4 1028.2h0M798.6 1032.2h0M798.9 1036.2h0M799.1 1040.2h0M799.3 1044.2h0M799.6 1048.2h0M799.8 1052.2h0M800.1 1056.2h0M800.4 1060.1h0M800.7 1064.1h0M801.1 1068.1h0M801.4 1072.1h0M801.8 1076.1h0M802.2 1080.1h0M802.6 1084.0h0M803.0 1088.0h0M803.4 1092.0h0M803.8 1096.0h0M804.2 1100.0h0M804.6 1103.9h0M805.0 1107.9h0M805.5 1111.9h0M805.9 1115.9h0M806.4 1119.8h0M806.9 1123.8h0M807.4 1127.8h0M807.9 1131.7h0M808.4 1135.7h0M808.9 1139.7h0M809.4 1143.7h0M809.9 1147.6h0M810.4 1151.6h0M810.9 1155.6h0M811.5 1159.5h0M812.1 1163.5h0M812.8 1167.4h0M813.5 1171.3h0M814.3 1175.3h0M815.0 1179.2h0M815.8 1183.1h0M816.6 1187.0h0M817.3 1191.0h0M818.1 1194.9h0M819.0 1198.8h0M819.9 1202.7h0M820.8 1206.6h0M821.8 1210.5h0M822.8 1214.3h0M823.8 1218.2h0M824.7 1222.1h0M825.8 1226.0h0M826.9 1229.8h0M828.1 1233.6h0M829.4 1237.4h0M830.7 1241.2h0M832.2 1244.9h0M834.4 1248.2h0M836.8 1251.4h0M840.4 1252.2h0M844.0 1250.6h0M846.6 1247.6h0M848.8 1244.3h0M850.4 1240.6h0M851.8 1236.9h0M853.2 1233.1h0M854.7 1229.4h0M855.8 1225.6h0M856.7 1221.7h0M857.4 1217.7h0M857.9 1213.8h0M858.5 1209.8h0M859.0 1205.8h0M859.5 1201.9h0M860.0 1197.9h0M860.6 1193.9h0M861.0 1190.0h0M861.4 1186.0h0M861.8 1182.0h0M862.2 1178.0h0M862.5 1174.0h0M862.8 1170.0h0M863.1 1166.0h0M863.4 1162.1h0M863.7 1158.1h0M864.0 1154.1h0M864.3 1150.1h0M864.6 1146.1h0M864.9 1142.1h0M865.2 1138.1h0M865.5 1134.1h0M865.8 1130.1h0M866.1 1126.2h0M866.4 1122.2h0M866.7 1118.2h0M867.0 1114.2h0M867.3 1110.2h0M867.6 1106.2h0M867.9 1102.2h0M868.2 1098.2h0M868.5 1094.2h0M868.8 1090.3h0M869.1 1086.3h0M869.4 1082.3h0M869.8 1078.3h0M870.1 1074.3h0M870.4 1070.3h0M870.8 1066.3h0M871.1 1062.4h0M871.4 1058.4h0M871.7 1054.4h0M871.9 1050.4h0M872.1 1046.4h0M872.4 1042.4h0M872.6 1038.4h0M872.8 1034.4h0M873.0 1030.4h0M873.3 1026.4h0M873.5 1022.4h0M873.7 1018.4h0M873.9 1014.4h0M874.1 1010.4h0M874.4 1006.5h0M874.6 1002.5h0M874.8 998.5h0M875.1 994.5h0M875.4 990.5h0M875.6 986.5h0M875.9 982.5h0M876.2 978.5h0M876.5 974.5h0M876.7 970.5h0M877.0 966.5h0M877.3 962.6h0M877.6 958.6h0M877.9 954.6h0M878.2 950.6h0M878.5 946.6h0M879.0 942.6h0M879.4 938.7h0M880.3 934.7h0M881.4 930.9h0M882.5 927.1h0M883.9 923.3h0M886.1 920.0h0M889.1 917.3h0M891.6 914.2h0M892.4 910.4h0M892.9 906.4h0M893.2 902.4h0M893.4 898.4h0M893.6 894.4h0M893.8 890.4h0M894.0 886.4h0M894.2 882.4h0M894.4 878.4h0M894.6 874.4h0M894.8 870.4h0M895.0 866.5h0M895.3 862.5h0M895.6 858.5h0M896.0 854.5h0M896.4 850.5h0M896.8 846.5h0M897.2 842.6h0M897.6 838.6h0M898.0 834.6h0M898.4 830.6h0M898.8 826.6h0M899.2 822.7h0M899.6 818.7h0M900.1 814.7h0M900.5 810.7h0M901.0 806.8h0M901.5 802.8h0M902.0 798.8h0M902.5 794.9h0M903.0 790.9h0M903.6 786.9h0M904.1 783.0h0M904.6 779.0h0M905.1 775.0h0M905.6 771.0h0M906.1 767.1h0M906.6 763.1h0M907.1 759.1h0M907.6 755.2h0M908.1 751.2h0M908.6 747.2h0M909.1 743.3h0M909.6 739.3h0M910.1 735.3h0M910.6 731.4h0M911.1 727.4h0M911.6 723.4h0M912.1 719.5h0M912.5 715.5h0M913.0 711.5h0M913.4 707.5h0M913.8 703.6h0M914.2 699.6h0M914.6 695.6h0M915.0 691.6h0M915.4 687.6h0M915.8 683.6h0M916.1 679.7h0M916.5 675.7h0M916.8 671.7h0M917.1 667.7h0M917.4 663.7h0M917.6 659.7h0M917.9 655.7h0M918.2 651.7h0M918.5 647.7h0M918.7 643.8h0M919.0 639.8h0M919.2 635.8h0M919.5 631.8h0M919.7 627.8h0M919.9 623.8h0M920.2 619.8h0M920.4 615.8h0M920.6 611.8h0M920.8 607.8h0M921.1 603.8h0M921.3 599.8h0M921.5 595.8h0M921.8 591.8h0M922.0 587.9h0M922.2 583.9h0M922.4 579.9h0M922.6 575.9h0M922.8 571.9h0M923.0 567.9h0M923.2 563.9h0M923.4 559.9h0M923.6 555.9h0M923.8 551.9h0M924.0 547.9h0M924.1 543.9h0M924.3 539.9h0M924.5 535.9h0M924.7 531.9h0M924.9 527.9h0M925.1 523.9h0M925.3 519.9h0M925.5 515.9h0M925.7 511.9h0M926.0 508.0h0M926.2 504.0h0M926.5 500.0h0M926.9 496.0h0M927.2 492.0h0M927.6 488.0h0M928.0 484.0h0M928.4 480.1h0M928.8 476.1h0M929.2 472.1h0M929.6 468.1h0M930.1 464.1h0M930.5 460.2h0M931.2 456.2h0M931.9 452.3h0M933.1 448.5h0M934.4 444.7h0M935.7 440.9h0M937.6 437.5h0M941.1 435.6h0M944.9 434.4h0M948.8 433.5h0M952.7 432.9h0M955.8 430.5h0M957.7 426.9h0M959.4 423.3h0M961.2 419.7h0M962.8 416.1h0M964.3 412.4h0M965.6 408.6h0M967.0 404.8h0M968.3 401.1h0M969.4 397.2h0M970.2 393.3h0M970.8 389.4h0M971.3 385.4h0M971.8 381.4h0M972.3 377.5h0M972.7 373.5h0M973.1 369.5h0M973.4 365.5h0M973.7 361.5h0M973.9 357.5h0M974.2 353.5h0M974.5 349.5h0M974.7 345.5h0M975.0 341.6h0M975.2 337.6h0M975.4 333.6h0M975.6 329.6h0M975.8 325.6h0M975.9 321.6h0M976.1 317.6h0M976.2 313.6h0M976.4 309.6h0M976.5 305.6h0M976.7 301.6h0M976.8 297.6h0M977.0 293.6h0M977.0 293.4h0M977.0 274.5h0M978.1 270.7h0M979.3 266.8h0M980.4 263.0h0M981.8 259.2h0M983.4 255.6h0M985.0 251.9h0M987.6 253.0h0M989.2 256.7h0M990.8 260.4h0M992.2 264.1h0M993.3 268.0h0M994.4 271.8h0M995.4 275.7h0M996.4 279.5h0M997.3 283.5h0M997.9 287.4h0M998.4 291.4h0M998.8 295.3h0M999.2 299.3h0M999.6 303.3h0M1000.0 307.3h0M1000.3 311.3h0M1000.7 315.3h0M1001.1 319.2h0M1001.4 323.2h0M1001.8 327.2h0M1002.2 331.2h0M1002.6 335.2h0M1002.9 339.2h0M1003.3 343.1h0M1003.7 347.1h0M1004.1 351.1h0M1004.5 355.1h0M1004.9 359.1h0M1005.3 363.0h0M1005.7 367.0h0M1006.2 371.0h0M1006.8 374.9h0M1007.5 378.9h0M1008.3 382.8h0M1009.0 386.7h0M1009.8 390.7h0M1010.6 394.6h0M1011.7 398.4h0M1012.8 402.3h0M1014.1 406.0h0M1015.5 409.8h0M1016.8 413.6h0M1018.1 417.4h0M1019.3 421.2h0M1020.3 425.0h0M1021.3 428.9h0M1022.2 432.8h0M1023.0 436.7h0M1023.9 440.6h0M1024.9 444.5h0M1025.8 448.4h0M1026.8 452.3h0M1027.8 456.2h0M1028.7 460.1h0M1029.7 463.9h0M1030.6 467.8h0M1031.5 471.7h0M1032.4 475.6h0M1033.1 479.6h0M1033.7 483.5h0M1034.2 487.5h0M1034.6 491.5h0M1035.0 495.4h0M1035.4 499.4h0M1035.8 503.4h0M1036.2 507.4h0M1036.6 511.4h0M1037.0 515.3h0M1037.4 519.3h0M1037.8 523.3h0M1038.1 527.3h0M1038.4 531.3h0M1038.7 535.3h0M1038.9 539.3h0M1039.1 543.3h0M1039.3 547.3h0M1039.5 551.2h0M1039.8 555.2h0M1040.0 559.2h0M1040.2 563.2h0M1040.4 567.2h0M1040.6 571.2h0M1040.8 575.2h0M1040.9 579.2h0M1041.1 583.2h0M1041.3 587.2h0M1041.4 591.2h0M1041.6 595.2h0M1041.7 599.2h0M1041.9 603.2h0M1042.0 607.2h0M1042.2 611.2h0M1042.3 615.2h0M1042.5 619.2h0M1042.6 623.2h0M1042.8 627.2h0M1042.9 631.2h0M1043.0 635.2h0M1043.2 639.2h0M1043.3 643.2h0M1043.7 660.2h0M1044.1 677.2h0M1044.4 694.2h0M1044.9 713.6h0M1045.3 732.9h0M1045.7 752.3h0M1046.2 771.7h0M1046.6 791.1h0M1047.1 810.5h0M1047.5 831.8h0M1048.0 853.1h0M1048.5 874.4h0M1049.0 895.7h0M1049.7 917.0h0M1050.4 938.3h0M1051.0 959.6h0M1051.4 980.9h0M1051.8 1002.2h0M1052.3 1022.2h0M1052.7 1042.2h0M1053.1 1062.2h0M1053.7 1080.6h0M1054.4 1099.1h0M1055.2 1117.6h0M1055.8 1131.6h0M1056.4 1145.6h0M1056.6 1149.6h0M1056.8 1153.6h0M1057.0 1157.6h0M1057.2 1161.6h0M1057.4 1165.6h0M1057.6 1169.6h0M1057.8 1173.6h0M1058.0 1177.5h0M1058.2 1181.5h0M1058.4 1185.5h0M1058.7 1189.5h0M1059.0 1193.5h0M1059.4 1197.5h0M1059.8 1201.5h0M1060.2 1205.5h0M1060.6 1209.4h0M1060.9 1213.4h0M1061.4 1217.4h0M1061.9 1221.4h0M1062.7 1225.3h0M1064.0 1229.1h0M1065.6 1232.7h0M1067.2 1236.4h0M1068.9 1240.0h0M1071.4 1243.1h0M1074.6 1245.5h0M1077.9 1247.8h0M1081.3 1249.9h0M1085.0 1251.3h0M1088.9 1252.3h0M1092.9 1252.7h0M1096.8 1252.1h0M1100.7 1251.3h0M1104.4 1249.8h0M1106.7 1246.6h0M1108.7 1243.1h0M1110.1 1239.4h0M1110.7 1235.5h0M1111.1 1231.5h0M1111.4 1227.5h0M1111.6 1223.5h0M1111.8 1219.5h0M1112.1 1215.5h0M1112.3 1211.5h0M1112.5 1207.5h0M1112.8 1203.5h0M1113.0 1199.5h0M1113.2 1195.5h0M1113.4 1191.5h0M1113.6 1187.5h0M1113.9 1183.5h0M1114.1 1179.6h0M1114.3 1175.6h0M1114.5 1171.6h0M1114.7 1167.6h0M1114.9 1163.6h0M1115.2 1159.6h0M1115.4 1155.6h0M1115.6 1151.6h0M1115.8 1147.6h0M1116.0 1143.6h0M1116.2 1139.6h0M1116.3 1135.6h0M1116.5 1131.6h0M1116.7 1127.6h0M1116.9 1123.6h0M1117.1 1119.6h0M1117.3 1115.6h0M1117.5 1111.6h0M1117.6 1107.6h0M1117.8 1103.6h0M1118.0 1099.7h0M1118.2 1095.7h0M1118.4 1091.7h0M1118.5 1087.7h0M1118.7 1083.7h0M1118.9 1079.7h0M1119.1 1075.7h0M1119.3 1071.7h0M1119.4 1067.7h0M1119.6 1063.7h0M1119.8 1059.7h0M1120.0 1055.7h0M1120.3 1051.7h0M1120.5 1047.7h0M1120.8 1043.7h0M1121.0 1039.7h0M1121.3 1035.7h0M1121.6 1031.7h0M1121.9 1027.8h0M1122.1 1023.8h0M1122.4 1019.8h0M1122.7 1015.8h0M1122.9 1011.8h0M1123.2 1007.8h0M1123.5 1003.8h0M1123.8 999.8h0M1124.0 995.8h0M1124.3 991.8h0M1124.6 987.8h0M1124.8 983.9h0M1125.1 979.9h0M1125.4 975.9h0M1125.6 971.9h0M1125.9 967.9h0M1126.1 963.9h0M1126.4 959.9h0M1126.7 955.9h0M1126.9 951.9h0M1127.2 947.9h0M1127.4 943.9h0M1127.7 940.0h0M1128.0 936.0h0M1128.2 932.0h0M1128.5 928.0h0M1128.7 924.0h0M1129.0 920.0h0M1129.3 916.0h0M1129.5 912.0h0M1129.8 908.0h0M1130.1 904.0h0M1130.3 900.0h0M1130.6 896.0h0M1130.9 892.1h0M1131.1 888.1h0M1131.4 884.1h0M1131.7 880.1h0M1131.9 876.1h0M1132.2 872.1h0M1132.5 868.1h0M1132.7 864.1h0M1133.0 860.1h0M1133.3 856.1h0M1133.5 852.1h0M1133.8 848.2h0M1134.0 844.2h0M1134.3 840.2h0M1134.5 836.2h0M1134.7 832.2h0M1134.9 828.2h0M1135.1 824.2h0M1135.3 820.2h0M1135.5 816.2h0M1135.7 812.2h0M1135.9 808.2h0M1136.1 804.2h0M1136.3 800.2h0M1136.5 796.2h0M1136.7 792.2h0M1136.9 788.2h0M1137.1 784.2h0M1137.3 780.2h0M1137.5 776.2h0M1137.7 772.3h0M1137.9 768.3h0M1138.2 764.3h0M1138.4 760.3h0M1138.7 756.3h0M1139.0 752.3h0M1139.3 748.3h0M1139.6 744.3h0M1140.0 740.3h0M1140.3 736.3h0M1140.6 732.4h0M1140.9 728.4h0M1141.2 724.4h0M1141.5 720.4h0M1141.8 716.4h0M1142.0 712.4h0M1142.3 708.4h0M1142.5 704.4h0M1142.8 700.4h0M1143.0 696.4h0M1143.2 692.4h0M1143.4 688.5h0M1143.6 684.5h0M1143.8 680.5h0M1144.0 676.5h0M1144.2 672.5h0M1144.5 668.5h0M1144.7 664.5h0M1144.9 660.5h0M1145.1 656.5h0M1145.3 652.5h0M1145.5 648.5h0M1145.6 644.5h0M1145.8 640.5h0M1146.0 636.5h0M1146.1 632.5h0M1146.2 628.5h0M1146.3 624.5h0M1146.5 620.5h0M1146.6 616.5h0M1146.7 612.5h0M1146.9 608.5h0M1147.1 604.5h0M1147.4 600.5h0M1147.7 596.6h0M1148.1 592.6h0M1148.5 588.6h0M1148.9 584.6h0M1149.3 580.6h0M1149.9 576.7h0M1150.6 572.8h0M1151.5 568.8h0M1153.6 569.8h0M1155.2 573.5h0M1156.8 577.1h0M1158.2 580.9h0M1159.6 584.6h0M1160.9 588.4h0M1162.2 592.2h0M1164.3 595.1h0M1165.7 591.5h0M1166.8 587.6h0M1167.9 583.8h0M1168.8 579.9h0M1169.6 576.0h0M1170.2 572.0h0M1170.8 568.1h0M1171.4 564.1h0M1172.0 560.2h0M1172.6 556.2h0M1172.9 552.2h0M1173.3 548.2h0M1173.5 544.2h0M1173.7 540.2h0M1173.9 536.2h0M1174.1 532.2h0M1174.3 528.3h0M1174.6 524.3h0M1174.8 520.3h0M1175.0 516.3h0M1175.2 512.3h0M1175.5 508.3h0M1175.7 504.3h0M1176.0 500.3h0M1176.4 496.3h0M1176.8 492.3h0M1177.2 488.4h0M1177.6 484.4h0M1178.0 480.4h0M1178.4 476.4h0M1178.9 472.5h0M1179.7 468.5h0M1181.7 465.2h0M1184.9 462.9h0M1188.5 461.2h0M1192.4 460.1h0M1195.5 457.9h0M1196.8 454.1h0M1197.5 450.2h0M1198.2 446.3h0M1198.9 442.3h0M1199.7 438.4h0M1200.8 434.5h0M1202.0 430.7h0M1203.3 427.0h0M1204.7 423.2h0M1206.0 419.4h0M1207.3 415.6h0M1208.5 411.8h0M1209.6 408.0h0M1210.7 404.1h0M1211.7 400.3h0M1212.7 396.4h0M1213.8 392.5h0M1214.8 388.7h0M1215.8 384.8h0M1216.8 380.9h0M1217.7 377.0h0M1218.6 373.1h0M1219.3 369.2h0M1220.0 365.2h0M1220.6 361.3h0M1221.2 357.3h0M1221.8 353.4h0M1222.4 349.4h0M1223.0 345.5h0M1223.6 341.5h0M1223.8 340.2h0M1224.5 282.2h0M1226.7 278.9h0M1229.1 275.6h0M1232.1 273.1h0M1235.4 274.3h0M1237.9 277.4h0M1239.9 280.8h0M1241.2 284.6h0M1242.2 288.4h0M1243.3 292.3h0M1244.3 296.2h0M1245.0 300.1h0M1245.6 304.1h0M1246.0 308.1h0M1246.4 312.0h0M1246.8 316.0h0M1247.2 320.0h0M1247.6 324.0h0M1247.9 328.0h0M1248.3 331.9h0M1248.7 335.9h0M1249.1 339.9h0M1249.4 343.9h0M1249.8 347.9h0M1250.2 351.9h0M1250.6 355.8h0M1250.9 359.8h0M1251.3 363.8h0M1251.7 367.8h0M1252.1 371.8h0M1252.4 375.7h0M1252.8 379.7h0M1253.2 383.7h0M1253.6 387.7h0M1254.0 391.7h0M1254.4 395.7h0M1254.8 399.6h0M1255.2 403.6h0M1255.6 407.6h0M1256.1 411.6h0M1256.6 415.5h0M1257.0 419.5h0M1257.5 423.5h0M1258.0 427.5h0M1258.4 431.4h0M1258.8 435.4h0M1259.2 439.4h0M1259.6 443.4h0M1260.0 447.4h0M1260.3 451.3h0M1260.7 455.3h0M1261.1 459.3h0M1261.5 463.3h0M1261.8 467.3h0M1262.2 471.2h0M1262.6 475.2h0M1263.0 479.2h0M1263.4 483.2h0M1263.8 487.2h0M1264.2 491.1h0M1264.6 495.1h0M1265.0 499.1h0M1265.4 503.1h0M1265.8 507.1h0M1266.2 511.0h0M1266.6 515.0h0M1267.0 519.0h0M1267.4 523.0h0M1267.8 527.0h0M1268.2 530.9h0M1268.6 534.9h0M1269.0 538.9h0M1269.4 542.9h0M1269.8 546.9h0M1270.2 550.8h0M1270.6 554.8h0M1271.0 558.8h0M1271.4 562.8h0M1271.8 566.8h0M1272.2 570.8h0M1272.5 574.7h0M1272.9 578.7h0M1273.2 582.7h0M1273.6 586.7h0M1273.9 590.7h0M1274.2 594.7h0M1274.5 598.7h0M1274.8 602.6h0M1275.1 606.6h0M1275.4 610.6h0M1275.7 614.6h0M1276.0 618.6h0M1276.3 622.6h0M1276.6 626.6h0M1276.9 630.6h0M1277.2 634.6h0M1277.5 638.5h0M1277.8 642.5h0M1278.1 646.5h0M1278.4 650.5h0M1278.7 654.5h0M1279.0 658.5h0M1279.3 662.5h0M1279.5 666.5h0M1279.8 670.5h0M1280.1 674.4h0M1280.4 678.4h0M1280.7 682.4h0M1281.0 686.4h0M1281.3 690.4h0M1281.5 694.4h0M1281.8 698.4h0M1282.1 702.4h0M1282.3 706.4h0M1282.6 710.4h0M1282.8 714.4h0M1283.0 718.3h0M1283.2 722.3h0M1283.7 736.3h0M1284.1 750.3h0M1284.5 764.3h0M1284.9 778.3h0M1285.3 792.3h0M1285.7 811.3h0M1286.0 830.3h0M1286.3 849.3h0M1286.7 868.3h0M1287.0 887.3h0M1287.4 906.3h0M1287.8 925.3h0M1288.3 944.3h0M1288.9 963.3h0M1289.4 982.3h0M1289.9 1001.3h0M1290.5 1020.3h0M1290.8 1033.2h0M1291.3 1046.2h0M1292.0 1059.2h0M1292.7 1072.2h0M1292.9 1076.2h0M1293.1 1080.2h0M1293.3 1084.2h0M1293.5 1088.2h0M1293.7 1092.2h0M1293.9 1096.2h0M1294.1 1100.2h0M1294.3 1104.2h0M1294.5 1108.2h0M1294.6 1112.2h0M1294.8 1116.1h0M1295.0 1120.1h0M1295.2 1124.1h0M1295.4 1128.1h0M1295.6 1132.1h0M1295.9 1136.1h0M1296.1 1140.1h0M1296.3 1144.1h0M1296.6 1148.1h0M1296.9 1152.1h0M1297.2 1156.1h0M1297.6 1160.1h0M1297.9 1164.0h0M1298.3 1168.0h0M1298.7 1172.0h0M1299.1 1176.0h0M1299.5 1180.0h0M1299.9 1183.9h0M1300.3 1187.9h0M1300.8 1191.9h0M1301.2 1195.9h0M1301.8 1199.8h0M1302.4 1203.8h0M1303.1 1207.7h0M1303.9 1211.6h0M1304.7 1215.6h0M1305.5 1219.5h0M1306.6 1223.3h0M1308.1 1227.0h0M1310.0 1230.6h0M1311.9 1234.0h0M1313.9 1237.5h0M1316.2 1240.7h0M1319.3 1243.3h0M1322.9 1245.1h0M1326.5 1246.8h0M1330.1 1248.5h0M1333.7 1250.2h0M1337.4 1251.8h0M1341.3 1252.0h0M1344.7 1249.9h0M1347.7 1247.4h0M1349.0 1243.6h0M1349.7 1239.7h0M1350.2 1235.7h0M1350.6 1231.7h0M1351.0 1227.8h0M1351.5 1223.8h0M1351.9 1219.8h0M1352.3 1215.8h0M1352.8 1211.9h0M1353.3 1207.9h0M1353.8 1203.9h0M1354.3 1200.0h0M1354.8 1196.0h0M1355.3 1192.0h0M1355.8 1188.1h0M1356.4 1184.1h0M1356.9 1180.1h0M1357.3 1176.1h0M1357.8 1172.2h0M1358.2 1168.2h0M1358.6 1164.2h0M1359.0 1160.2h0M1359.4 1156.3h0M1359.8 1152.3h0M1360.2 1148.3h0M1360.6 1144.3h0M1361.0 1140.3h0M1361.4 1136.4h0M1361.8 1132.4h0M1362.2 1128.4h0M1362.5 1124.4h0M1362.9 1120.4h0M1363.2 1116.4h0M1363.5 1112.5h0M1363.8 1108.5h0M1364.1 1104.5h0M1364.4 1100.5h0M1364.7 1096.5h0M1365.1 1092.5h0M1365.4 1088.5h0M1365.7 1084.5h0M1365.9 1080.5h0M1366.2 1076.6h0M1366.5 1072.6h0M1366.7 1068.6h0M1366.9 1064.6h0M1367.1 1060.6h0M1367.4 1056.6h0M1367.6 1052.6h0M1367.8 1048.6h0M1368.0 1044.6h0M1368.2 1040.6h0M1368.4 1036.6h0M1368.6 1032.6h0M1368.8 1028.6h0M1368.9 1024.6h0M1369.1 1020.6h0M1369.2 1016.6h0M1369.3 1012.6h0M1369.5 1008.6h0M1369.6 1004.6h0M1369.7 1000.6h0M1369.8 996.6h0M1369.9 992.6h0M1370.0 988.6h0M1370.2 984.6h0M1370.3 980.6h0M1370.4 976.6h0M1370.6 972.7h0M1370.7 968.7h0M1370.8 964.7h0M1371.0 960.7h0M1371.1 956.7h0M1371.3 952.7h0M1371.4 948.7h0M1371.5 944.7h0M1371.7 940.7h0M1371.8 936.7h0M1372.0 932.7h0M1372.1 928.7h0M1372.2 924.7h0M1372.4 920.7h0M1372.5 916.7h0M1372.6 912.7h0M1372.8 908.7h0M1372.9 904.7h0M1373.0 900.7h0M1373.2 896.7h0M1373.3 892.7h0M1373.4 888.7h0M1373.5 884.7h0M1373.7 880.7h0M1373.8 876.7h0M1373.9 872.7h0M1374.1 868.7h0M1374.2 864.7h0M1374.3 860.7h0M1374.4 856.7h0M1374.6 852.7h0M1374.7 848.7h0M1374.8 844.7h0M1375.0 840.7h0M1375.1 836.7h0M1375.2 832.7h0M1375.4 828.7h0M1375.5 824.7h0M1375.7 820.7h0M1375.8 816.7h0M1375.9 812.7h0M1376.1 808.7h0M1376.2 804.7h0M1376.3 800.7h0M1376.5 796.8h0M1376.6 792.8h0M1376.8 788.8h0M1376.9 784.8h0M1377.0 780.8h0M1377.2 776.8h0M1377.3 772.8h0M1377.5 768.8h0M1377.7 764.8h0M1377.8 760.8h0M1378.0 756.8h0M1378.2 752.8h0M1378.4 748.8h0M1378.6 744.8h0M1378.7 740.8h0M1378.9 736.8h0M1379.1 732.8h0M1379.3 728.8h0M1379.5 724.8h0M1379.7 720.8h0M1380.0 716.8h0M1380.3 712.8h0M1380.6 708.9h0M1380.9 704.9h0M1381.2 700.9h0M1381.6 696.9h0M1382.0 692.9h0M1382.3 688.9h0M1382.7 684.9h0M1383.1 681.0h0M1383.6 677.0h0M1384.4 673.1h0M1385.4 669.2h0M1386.7 665.4h0M1388.2 661.7h0M1389.8 658.0h0M1391.3 654.3h0M1392.8 650.7h0M1394.2 646.9h0M1395.4 643.1h0M1396.4 639.2h0M1397.1 635.3h0M1397.8 631.3h0M1398.4 627.4h0M1399.0 623.4h0M1399.6 619.5h0M1400.2 615.5h0M1400.9 611.6h0M1401.5 607.6h0M1402.3 603.7h0M1403.2 599.8h0M1404.1 595.9h0M1405.2 592.1h0M1406.2 588.2h0M1407.2 584.3h0M1408.2 580.4h0M1409.2 576.6h0M1410.2 572.7h0M1411.1 568.8h0M1412.1 564.9h0M1413.1 561.0h0M1414.0 557.1h0M1414.7 553.2h0M1415.4 549.3h0M1416.0 545.3h0M1416.5 541.4h0M1417.0 537.4h0M1417.6 533.4h0M1418.1 529.5h0M1418.6 525.5h0M1419.2 521.5h0M1419.7 517.6h0M1420.2 513.6h0M1420.8 509.6h0M1421.3 505.7h0M1421.8 501.7h0M1422.3 497.7h0M1422.9 493.8h0M1423.4 489.8h0M1423.9 485.8h0M1424.4 481.9h0M1424.9 477.9h0M1425.4 473.9h0M1425.9 470.0h0M1426.3 466.0h0M1426.8 462.0h0M1427.3 458.0h0M1427.7 454.1h0M1428.1 450.1h0M1428.5 446.1h0M1428.9 442.1h0M1429.3 438.2h0M1429.7 434.2h0M1430.0 430.2h0M1430.4 426.2h0M1430.8 422.2h0M1431.3 418.3h0M1432.0 414.3h0M1432.8 410.4h0M1433.9 406.6h0M1435.1 402.7h0M1436.2 398.9h0M1437.3 395.1h0M1438.3 391.2h0M1439.0 387.2h0M1439.6 383.3h0M1440.1 379.3h0M1440.5 375.3h0M1440.9 371.4h0M1441.4 367.4h0M1441.8 363.4h0M1442.2 359.4h0M1442.6 355.4h0M1443.1 351.5h0M1443.5 347.5h0M1443.9 343.5h0M1444.4 339.5h0M1444.9 335.6h0M1445.4 331.6h0M1445.9 327.6h0M1446.4 323.7h0M1447.0 319.7h0M1447.5 315.8h0M1448.1 311.8h0M1448.8 307.8h0M1449.5 303.9h0M1450.2 300.0h0M1450.9 296.0h0M1451.6 292.1h0M1452.3 288.2h0M1453.1 284.2h0M1453.8 280.3h0M1454.6 276.4h0M1455.3 272.4h0M1456.2 268.6h0M1458.7 266.0h0M1461.7 268.7h0M1464.3 271.6h0M1467.0 274.6h0M1469.7 277.5h0M1472.5 280.4h0M1475.3 283.2h0M1478.2 286.0h0M1481.1 288.8h0M1483.5 291.9h0M1485.3 295.5h0M1486.4 299.4h0M1487.3 303.3h0M1488.2 307.2h0M1489.1 311.1h0M1489.7 315.0h0M1490.2 319.0h0M1490.7 323.0h0M1491.0 326.9h0M1491.4 330.9h0M1491.7 334.9h0M1492.1 338.9h0M1492.4 342.9h0M1492.8 346.9h0M1493.1 350.8h0M1493.5 354.8h0M1493.8 358.8h0M1494.1 362.8h0M1494.5 366.8h0M1494.8 370.8h0M1495.2 374.8h0M1495.5 378.7h0M1495.9 382.7h0M1496.2 386.7h0M1496.6 390.7h0M1496.9 394.7h0M1497.3 398.7h0M1497.6 402.7h0M1498.0 406.6h0M1498.3 410.6h0M1498.6 414.6h0M1498.9 418.6h0M1499.2 422.6h0M1499.4 426.6h0M1499.6 430.6h0M1499.9 434.6h0M1500.1 438.6h0M1500.3 442.6h0M1500.5 446.6h0M1500.8 450.5h0M1501.0 454.5h0M1501.2 458.5h0M1501.5 462.5h0M1501.7 466.5h0M1502.0 470.5h0M1502.2 474.5h0M1502.4 478.5h0M1502.7 482.5h0M1502.9 486.5h0M1503.2 490.5h0M1503.4 494.5h0M1503.6 498.5h0M1503.8 502.5h0M1504.0 506.5h0M1504.2 510.4h0M1504.4 514.4h0M1504.6 518.4h0M1504.7 522.4h0M1504.9 526.4h0M1505.1 530.4h0M1505.2 534.4h0M1505.4 538.4h0M1505.5 542.4h0M1505.7 546.4h0M1505.9 550.4h0M1506.0 554.4h0M1506.2 558.4h0M1506.3 562.4h0M1506.5 566.4h0M1506.7 570.4h0M1506.8 574.4h0M1507.0 578.4h0M1507.1 582.4h0M1507.3 586.4h0M1507.5 590.4h0M1507.6 594.4h0M1507.8 598.4h0M1508.0 602.4h0M1508.2 606.4h0M1508.5 610.4h0M1508.8 614.3h0M1509.0 618.3h0M1509.3 622.3h0M1509.6 626.3h0M1509.9 630.3h0M1510.2 634.3h0M1510.5 638.3h0M1510.8 642.3h0M1511.1 646.3h0M1511.5 650.2h0M1511.8 654.2h0M1512.1 658.2h0M1512.5 662.2h0M1512.8 666.2h0M1513.2 670.2h0M1513.5 674.2h0M1513.8 678.1h0M1514.2 682.1h0M1514.5 686.1h0M1514.9 690.1h0M1515.2 694.1h0M1515.6 698.1h0M1515.9 702.1h0M1516.2 706.0h0M1516.5 710.0h0M1516.8 714.0h0M1517.1 718.0h0M1517.5 722.0h0M1517.7 726.0h0M1518.0 730.0h0M1518.3 734.0h0M1518.5 738.0h0M1518.8 741.9h0M1519.1 745.9h0M1519.3 749.9h0M1519.6 753.9h0M1519.9 757.9h0M1520.1 761.9h0M1520.4 765.9h0M1520.7 769.9h0M1520.9 773.9h0M1521.2 777.9h0M1521.5 781.9h0M1521.7 785.9h0M1521.9 789.8h0M1522.2 793.8h0M1522.4 797.8h0M1522.6 801.8h0M1522.8 805.8h0M1523.0 809.8h0M1523.2 813.8h0M1523.4 817.8h0M1523.6 821.8h0M1523.8 825.8h0M1524.0 829.8h0M1524.2 833.8h0M1524.4 837.8h0M1524.6 841.8h0M1524.8 845.8h0M1525.0 849.8h0M1525.2 853.8h0M1525.4 857.8h0M1525.6 861.8h0M1525.8 865.7h0M1526.0 869.7h0M1526.2 873.7h0M1526.3 877.7h0M1526.5 881.7h0M1526.7 885.7h0M1526.8 889.7h0M1527.0 893.7h0M1527.1 897.7h0M1527.3 901.7h0M1527.5 905.7h0M1527.6 909.7h0M1527.8 913.7h0M1527.9 917.7h0M1528.1 921.7h0M1528.3 925.7h0M1528.4 929.7h0M1528.6 933.7h0M1528.7 937.7h0M1528.9 941.7h0M1529.1 945.7h0M1529.2 949.7h0M1529.4 953.7h0M1529.5 957.7h0M1529.7 961.7h0M1529.9 965.7h0M1530.0 969.7h0M1530.2 973.7h0M1530.3 977.7h0M1530.5 981.7h0M1530.6 985.6h0M1530.8 989.6h0M1530.9 993.6h0M1531.1 997.6h0M1531.2 1001.6h0M1531.4 1005.6h0M1531.5 1009.6h0M1531.6 1013.6h0M1531.8 1017.6h0M1531.9 1021.6h0M1532.0 1025.6h0M1532.2 1029.6h0M1532.3 1033.6h0M1532.5 1037.6h0M1532.7 1041.6h0M1532.9 1045.6h0M1533.1 1049.6h0M1533.4 1053.6h0M1533.6 1057.6h0M1533.9 1061.6h0M1534.1 1065.6h0M1534.4 1069.6h0M1534.6 1073.6h0M1534.8 1077.5h0M1535.0 1081.5h0M1535.2 1085.5h0M1535.4 1089.5h0M1535.6 1093.5h0M1535.8 1097.5h0M1536.0 1101.5h0M1536.2 1105.5h0M1536.4 1109.5h0M1536.6 1113.5h0M1536.8 1117.5h0M1537.0 1121.5h0M1537.2 1125.5h0M1537.4 1129.5h0M1537.6 1133.5h0M1537.8 1137.5h0M1538.0 1141.5h0M1538.3 1145.5h0M1538.5 1149.4h0M1538.8 1153.4h0M1539.1 1157.4h0M1539.4 1161.4h0M1539.7 1165.4h0M1540.0 1169.4h0M1540.3 1173.4h0M1540.6 1177.4h0M1540.9 1181.4h0M1541.3 1185.3h0M1541.6 1189.3h0M1541.9 1193.3h0M1542.2 1197.3h0M1542.6 1201.3h0M1543.0 1205.3h0M1543.6 1209.2h0M1544.2 1213.2h0M1545.2 1217.1h0M1546.4 1220.9h0M1547.7 1224.6h0M1549.0 1228.4h0M1550.4 1232.2h0M1552.0 1235.9h0M1553.9 1239.3h0M1556.4 1242.5h0M1558.9 1245.6h0M1561.7 1248.4h0M1565.2 1250.3h0M1569.0 1251.4h0M1572.9 1252.4h0M1576.9 1252.6h0M1580.9 1252.1h0M1584.8 1251.6h0M1588.8 1250.9h0M1592.2 1249.0h0M1593.9 1245.4h0M1595.3 1241.7h0M1596.5 1237.9h0M1597.2 1233.9h0M1597.7 1230.0h0M1598.1 1226.0h0M1598.5 1222.0h0M1598.9 1218.0h0M1599.3 1214.0h0M1599.6 1210.1h0M1599.9 1206.1h0M1600.3 1202.1h0M1600.6 1198.1h0M1600.9 1194.1h0M1601.2 1190.1h0M1601.5 1186.1h0M1601.8 1182.1h0M1602.1 1178.1h0M1602.4 1174.2h0M1602.7 1170.2h0M1603.0 1166.2h0M1603.3 1162.2h0M1603.6 1158.2h0M1603.9 1154.2h0M1604.2 1150.2h0M1604.5 1146.2h0M1604.8 1142.2h0M1605.1 1138.3h0M1605.4 1134.3h0M1605.6 1130.3h0M1605.9 1126.3h0M1606.2 1122.3h0M1606.5 1118.3h0M1606.8 1114.3h0M1607.0 1110.3h0M1607.3 1106.3h0M1607.5 1102.3h0M1607.7 1098.3h0M1607.9 1094.4h0M1608.1 1090.4h0M1608.3 1086.4h0M1608.5 1082.4h0M1608.7 1078.4h0M1608.9 1074.4h0M1609.1 1070.4h0M1609.3 1066.4h0M1609.5 1062.4h0M1609.8 1058.4h0M1610.0 1054.4h0M1610.3 1050.4h0M1610.6 1046.4h0M1610.8 1042.4h0M1611.1 1038.4h0M1611.4 1034.5h0M1611.6 1030.5h0M1611.9 1026.5h0M1612.1 1022.5h0M1612.4 1018.5h0M1612.7 1014.5h0M1612.9 1010.5h0M1613.2 1006.5h0M1613.4 1002.5h0M1613.7 998.5h0M1613.9 994.5h0M1614.2 990.5h0M1614.5 986.6h0M1614.7 982.6h0M1615.0 978.6h0M1615.3 974.6h0M1615.5 970.6h0M1615.8 966.6h0M1616.1 962.6h0M1616.3 958.6h0M1616.6 954.6h0M1616.9 950.6h0M1617.1 946.6h0M1617.4 942.7h0M1617.7 938.7h0M1617.9 934.7h0M1618.2 930.7h0M1618.5 926.7h0M1618.8 922.7h0M1619.1 918.7h0M1619.4 914.7h0M1619.8 910.7h0M1620.1 906.8h0M1620.5 902.8h0M1620.8 898.8h0M1621.2 894.8h0M1621.6 890.8h0M1622.0 886.9h0M1622.4 882.9h0M1622.8 878.9h0M1623.2 874.9h0M1623.6 870.9h0M1624.0 867.0h0M1624.4 863.0h0M1624.8 859.0h0M1625.2 855.0h0M1625.6 851.0h0M1626.0 847.0h0M1626.4 843.1h0M1626.7 839.1h0M1627.1 835.1h0M1627.5 831.1h0M1627.8 827.1h0M1628.2 823.1h0M1628.5 819.2h0M1628.8 815.2h0M1629.1 811.2h0M1629.5 807.2h0M1629.8 803.2h0M1630.1 799.2h0M1630.5 795.2h0M1630.8 791.3h0M1631.1 787.3h0M1631.5 783.3h0M1631.8 779.3h0M1632.1 775.3h0M1632.4 771.3h0M1632.8 767.3h0M1633.1 763.3h0M1633.4 759.4h0M1633.7 755.4h0M1634.1 751.4h0M1634.4 747.4h0M1634.7 743.4h0M1635.0 739.4h0M1635.3 735.4h0M1635.7 731.5h0M1636.0 727.5h0M1636.3 723.5h0M1636.6 719.5h0M1636.9 715.5h0M1637.3 711.5h0M1637.6 707.5h0M1638.0 703.5h0M1638.3 699.6h0M1638.7 695.6h0M1639.1 691.6h0M1639.5 687.6h0M1639.9 683.6h0M1640.4 679.7h0M1640.8 675.7h0M1641.2 671.7h0M1641.6 667.7h0M1642.0 663.8h0M1642.4 659.8h0M1642.8 655.8h0M1643.2 651.8h0M1643.6 647.8h0M1643.9 643.8h0M1644.2 639.9h0M1644.4 635.9h0M1644.6 631.9h0M1644.8 627.9h0M1645.0 623.9h0M1645.2 619.9h0M1645.4 615.9h0M1645.6 611.9h0M1645.9 607.9h0M1646.3 603.9h0M1646.7 599.9h0M1647.3 596.0h0M1647.9 592.0h0M1648.6 588.1h0M1649.2 584.1h0M1649.9 580.2h0M1650.9 576.4h0M1653.0 577.1h0M1654.8 580.7h0M1656.6 584.2h0M1658.4 587.8h0M1660.2 591.4h0M1662.0 594.9h0M1663.6 592.7h0M1664.0 588.7h0M1664.3 584.7h0M1664.5 580.7h0M1664.7 576.7h0M1664.9 572.7h0M1665.2 568.7h0M1665.4 564.7h0M1665.6 560.7h0M1665.8 556.8h0M1666.0 552.8h0M1666.3 548.8h0M1666.5 544.8h0M1666.7 540.8h0M1666.9 536.8h0M1667.1 532.8h0M1667.3 528.8h0M1667.5 524.8h0M1667.7 520.8h0M1667.9 516.8h0M1668.1 512.8h0M1668.3 508.8h0M1668.5 504.8h0M1668.7 500.8h0M1668.9 496.8h0M1669.1 492.8h0M1669.3 488.8h0M1669.5 484.8h0M1669.7 480.9h0M1669.9 476.9h0M1670.1 472.9h0M1670.3 468.9h0M1670.5 464.9h0M1670.7 460.9h0M1670.9 456.9h0M1671.1 452.9h0M1671.4 448.9h0M1671.6 444.9h0M1671.8 440.9h0M1672.0 436.9h0M1672.2 432.9h0M1672.5 428.9h0M1672.9 424.9h0M1673.3 421.0h0M1673.9 417.0h0M1674.5 413.1h0M1675.1 409.1h0M1675.7 405.1h0M1676.3 401.2h0M1676.9 397.2h0M1677.6 393.3h0M1678.3 389.4h0M1678.9 385.4h0M1679.6 381.5h0M1680.3 377.5h0M1680.9 373.6h0M1681.4 369.6h0M1682.0 365.6h0M1682.5 361.7h0M1683.0 357.7h0M1683.5 353.7h0M1684.1 349.8h0M1684.8 345.9h0M1685.5 341.9h0M1686.3 338.0h0M1687.1 334.1h0M1688.0 330.2h0M1689.7 332.3h0M1690.4 336.3h0M1691.2 340.2h0M1691.9 344.1h0M1692.6 348.1h0M1693.3 352.0h0M1694.0 355.9h0M1694.7 359.9h0M1695.4 363.8h0M1696.1 367.8h0M1696.8 371.7h0M1697.7 375.6h0M1698.8 379.5h0M1699.9 383.3h0M1701.1 387.1h0M1702.9 390.7h0M1706.4 392.3h0M1709.8 393.4h0M1710.7 322.0h0M1711.3 326.0h0M1711.8 329.9h0M1712.4 333.9h0M1712.9 337.8h0M1713.5 341.8h0M1714.1 345.8h0M1714.8 349.7h0M1716.0 353.5h0M1717.4 357.2h0M1718.9 354.2h0M1719.8 350.3h0M1720.6 346.3h0M1721.4 342.4h0M1722.0 338.5h0M1722.5 334.5h0M1722.8 330.5h0M1723.2 326.5h0M1723.5 322.5h0M1723.9 318.6h0M1724.2 314.6h0M1724.6 310.6h0M1725.1 306.6h0M1725.6 302.7h0M1726.3 298.7h0M1726.9 294.8h0M1727.6 290.8h0M1728.7 287.0h0M1730.3 283.3h0M1732.1 279.8h0M1734.3 276.6h0M1737.2 278.8h0M1739.2 282.2h0M1741.2 285.8h0M1742.2 289.6h0M1742.8 293.5h0M1743.2 297.5h0M1743.6 301.5h0M1743.9 305.5h0M1744.2 309.5h0M1744.6 313.5h0M1744.9 317.5h0M1745.2 321.4h0M1745.5 325.4h0M1745.8 329.4h0M1746.0 333.4h0M1746.3 337.4h0M1746.6 341.4h0M1746.8 345.4h0M1747.1 349.4h0M1747.3 353.4h0M1747.6 357.4h0M1747.8 361.4h0M1748.1 365.3h0M1748.4 369.3h0M1748.6 373.3h0M1748.9 377.3h0M1749.2 381.3h0M1749.5 385.3h0M1749.8 389.3h0M1750.1 393.3h0M1750.4 397.3h0M1750.7 401.3h0M1751.0 405.2h0M1751.3 409.2h0M1751.6 413.2h0M1751.9 417.2h0M1752.1 421.2h0M1752.4 425.2h0M1752.7 429.2h0M1753.0 433.2h0M1753.3 437.2h0M1753.6 441.1h0M1753.9 445.1h0M1754.2 449.1h0M1754.5 453.1h0M1754.8 457.1h0M1755.1 461.1h0M1755.4 465.1h0M1755.8 469.1h0M1756.1 473.1h0M1756.5 477.0h0M1757.0 481.0h0M1757.5 485.0h0M1758.2 488.9h0M1758.8 492.9h0M1759.5 496.8h0M1760.2 500.7h0M1760.9 504.7h0M1761.6 508.6h0M1762.2 512.6h0M1762.8 516.5h0M1763.4 520.5h0M1763.9 524.4h0M1764.4 528.4h0M1764.9 532.4h0M1765.4 536.4h0M1765.8 540.3h0M1766.3 544.3h0M1766.8 548.3h0M1767.2 552.3h0M1767.5 556.2h0M1767.9 560.2h0M1768.2 564.2h0M1768.4 568.2h0M1768.7 572.2h0M1769.0 576.2h0M1769.2 580.2h0M1769.5 584.2h0M1769.8 588.2h0M1770.0 592.2h0M1770.3 596.1h0M1770.5 600.1h0M1770.7 604.1h0M1770.9 608.1h0M1771.1 612.1h0M1771.3 616.1h0M1771.5 620.1h0M1771.6 624.1h0M1771.8 628.1h0M1772.0 632.1h0M1772.1 636.1h0M1772.3 640.1h0M1772.4 644.1h0M1772.6 648.1h0M1772.7 652.1h0M1772.9 656.1h0M1773.0 660.1h0M1773.2 664.1h0M1773.3 668.1h0M1773.5 672.1h0M1773.6 676.1h0M1773.8 680.1h0M1774.3 694.1h0M1774.8 708.1h0M1775.3 722.0h0M1775.8 736.0h0M1776.3 750.0h0M1776.8 764.0h0M1777.5 783.2h0M1778.1 802.4h0M1778.7 821.6h0M1779.3 840.8h0M1779.8 860.0h0M1780.2 879.2h0M1780.5 898.4h0M1780.7 917.6h0M1781.0 936.8h0M1781.5 956.0h0M1782.1 975.1h0M1782.7 994.3h0M1783.3 1013.5h0M1783.7 1025.5h0M1784.1 1037.5h0M1784.5 1049.5h0M1784.6 1053.5h0M1784.7 1057.5h0M1784.9 1061.5h0M1785.0 1065.5h0M1785.1 1069.5h0M1785.3 1073.5h0M1785.4 1077.5h0M1785.6 1081.5h0M1785.7 1085.5h0M1785.9 1089.5h0M1786.1 1093.5h0M1786.2 1097.5h0M1786.4 1101.5h0M1786.5 1105.5h0M1786.7 1109.5h0M1786.9 1113.5h0M1787.0 1117.5h0M1787.2 1121.5h0M1787.3 1125.4h0M1787.5 1129.4h0M1787.7 1133.4h0M1787.9 1137.4h0M1788.0 1141.4h0M1788.2 1145.4h0M1788.4 1149.4h0M1788.6 1153.4h0M1788.8 1157.4h0M1789.0 1161.4h0M1789.2 1165.4h0M1789.4 1169.4h0M1789.6 1173.4h0M1789.8 1177.4h0M1790.1 1181.4h0M1790.4 1185.4h0M1790.8 1189.4h0M1791.2 1193.3h0M1791.7 1197.3h0M1792.2 1201.3h0M1792.7 1205.2h0M1793.3 1209.2h0M1793.8 1213.2h0M1794.4 1217.1h0M1795.2 1221.0h0M1796.3 1224.9h0M1798.2 1228.4h0M1800.6 1231.6h0M1803.0 1234.8h0M1805.5 1237.9h0M1808.3 1240.8h0M1811.4 1243.3h0M1814.5 1245.8h0M1817.7 1248.3h0M1821.1 1250.3h0M1824.7 1252.0h0M1828.4 1253.4h0M1832.3 1252.5h0M1835.9 1250.8h0M1839.7 1249.8h0M1843.6 1250.6h0M1847.5 1251.4h0M1850.3 1248.8h0M1851.7 1245.1h0M1853.1 1241.3h0M1853.8 1237.4h0M1854.3 1233.4h0M1854.6 1229.5h0M1854.8 1225.5h0M1855.1 1221.5h0M1855.3 1217.5h0M1855.6 1213.5h0M1855.8 1209.5h0M1856.0 1205.5h0M1856.3 1201.5h0M1856.6 1197.5h0M1856.8 1193.5h0M1857.1 1189.5h0M1857.4 1185.5h0M1857.7 1181.6h0M1858.0 1177.6h0M1858.3 1173.6h0M1858.6 1169.6h0M1858.8 1165.6h0M1859.1 1161.6h0M1859.4 1157.6h0M1859.7 1153.6h0M1859.9 1149.6h0M1860.2 1145.6h0M1860.4 1141.6h0M1860.6 1137.7h0M1860.8 1133.7h0M1861.0 1129.7h0M1861.2 1125.7h0M1861.5 1121.7h0M1861.7 1117.7h0M1861.9 1113.7h0M1862.1 1109.7h0M1862.3 1105.7h0M1862.5 1101.7h0M1862.8 1097.7h0M1863.0 1093.7h0M1863.3 1089.7h0M1863.6 1085.7h0M1863.8 1081.7h0M1864.1 1077.8h0M1864.4 1073.8h0M1864.6 1069.8h0M1864.9 1065.8h0M1865.2 1061.8h0M1865.5 1057.8h0M1865.7 1053.8h0M1866.0 1049.8h0M1866.2 1045.8h0M1866.4 1041.8h0M1866.7 1037.8h0M1866.9 1033.8h0M1867.1 1029.9h0M1867.3 1025.9h0M1867.5 1021.9h0M1867.7 1017.9h0M1868.0 1013.9h0M1868.2 1009.9h0M1868.4 1005.9h0M1868.6 1001.9h0M1868.8 997.9h0M1869.0 993.9h0M1869.2 989.9h0M1869.3 985.9h0M1869.5 981.9h0M1869.7 977.9h0M1869.8 973.9h0M1869.9 969.9h0M1870.1 965.9h0M1870.2 961.9h0M1870.3 957.9h0M1870.5 953.9h0M1870.6 949.9h0M1870.7 945.9h0M1870.9 941.9h0M1871.0 937.9h0M1871.1 933.9h0M1871.3 929.9h0M1871.4 925.9h0M1871.6 921.9h0M1871.7 918.0h0M1871.9 914.0h0M1872.1 910.0h0M1872.2 906.0h0M1872.4 902.0h0M1872.6 898.0h0M1872.8 894.0h0M1873.0 890.0h0M1873.2 886.0h0M1873.4 882.0h0M1873.6 878.0h0M1873.8 874.0h0M1874.0 870.0h0M1874.2 866.0h0M1874.4 862.0h0M1874.6 858.0h0M1874.8 854.0h0M1875.0 850.0h0M1875.2 846.0h0M1875.5 842.0h0M1875.8 838.1h0M1876.0 834.1h0M1876.3 830.1h0M1876.6 826.1h0M1876.9 822.1h0M1877.3 818.1h0M1877.6 814.1h0M1877.9 810.1h0M1878.3 806.2h0M1878.6 802.2h0M1878.9 798.2h0M1879.3 794.2h0M1879.6 790.2h0M1879.9 786.2h0M1880.2 782.2h0M1880.6 778.3h0M1880.9 774.3h0M1881.3 770.3h0M1881.7 766.3h0M1882.1 762.3h0M1882.5 758.3h0M1882.9 754.4h0M1883.4 750.4h0M1883.8 746.4h0M1884.3 742.4h0M1884.8 738.5h0M1885.2 734.5h0M1885.7 730.5h0M1886.1 726.6h0M1886.6 722.6h0M1887.1 718.6h0M1887.5 714.6h0M1888.0 710.7h0M1888.4 706.7h0M1888.9 702.7h0M1889.3 698.7h0M1889.8 694.8h0M1890.2 690.8h0M1890.6 686.8h0M1891.0 682.8h0M1891.4 678.8h0M1891.9 674.9h0M1892.3 670.9h0M1892.7 666.9h0M1893.1 662.9h0M1893.5 659.0h0M1893.9 655.0h0M1894.3 651.0h0M1894.6 647.0h0M1894.9 643.0h0M1895.2 639.0h0M1895.4 635.0h0M1895.6 631.0h0M1895.7 627.0h0M1895.9 623.0h0M1896.1 619.0h0M1896.2 615.0h0M1896.4 611.1h0M1896.6 607.1h0M1896.9 603.1h0M1897.1 599.1h0M1897.4 595.1h0M1897.7 591.1h0M1898.0 587.1h0M1898.2 583.1h0M1898.5 579.1h0M1898.8 575.1h0M1899.1 571.1h0M1899.4 567.2h0M1899.7 563.2h0M1900.0 559.2h0M1900.4 555.2h0M1900.7 551.2h0M1901.1 547.2h0M1901.5 543.2h0M1901.9 539.3h0M1902.3 535.3h0M1902.7 531.3h0M1903.1 527.3h0M1903.5 523.3h0M1903.9 519.4h0M1904.3 515.4h0M1904.7 511.4h0M1905.2 507.4h0M1905.7 503.5h0M1906.4 499.5h0M1907.3 495.6h0M1908.2 491.7h0M1909.1 487.8h0M1910.3 484.0h0M1912.6 480.8h0M1916.0 478.6h0M1919.4 476.6h0M1922.0 473.6h0M1923.2 469.9h0M1923.7 465.9h0M1924.0 461.9h0M1924.3 457.9h0M1924.6 453.9h0M1924.9 449.9h0M1925.3 446.0h0M1925.9 442.0h0M1926.8 438.1h0M1927.7 434.2h0M1928.6 430.3h0M1929.5 426.4h0M1930.3 422.5h0M1931.3 418.6h0M1932.3 414.8h0M1933.4 410.9h0M1934.6 407.1h0M1935.7 403.3h0M1936.9 399.4h0M1938.0 395.6h0M1939.2 391.8h0M1940.3 387.9h0M1941.3 384.1h0M1942.2 380.2h0M1943.0 376.2h0M1943.7 372.3h0M1944.3 368.3h0M1944.8 364.4h0M1945.3 360.4h0M1945.8 356.4h0M1946.3 352.5h0M1946.9 348.5h0M1947.4 344.5h0M1947.9 340.6h0M1948.4 336.6h0M1948.9 332.6h0M1949.5 328.7h0M1950.0 324.7h0M1950.6 320.8h0M1951.1 316.8h0M1951.6 312.8h0M1952.2 308.9h0M1952.7 304.9h0M1953.3 300.9h0M1953.8 297.0h0M1954.4 293.0h0M1954.9 289.1h0M1955.5 285.1h0M1956.1 281.1h0M1956.6 277.2h0M1957.2 273.2h0M1957.8 269.3h0M1958.5 265.3h0M1959.1 261.4h0M1959.7 257.4h0M1960.3 253.5h0M1960.3 253.4h0M1460.0 280.0h0M1462.7 282.9h0M1465.4 285.9h0M1468.1 288.9h0M1470.0 291.0h0M1733.0 298.0h0M1733.5 302.0h0M1734.0 305.9h0M1734.3 309.9h0M1734.5 313.0h0" stroke="#1f1f1f" stroke-width="18.7" stroke-linecap="round" fill="none"/>
<path d="M262.95 1416.00H2046.40" fill="none" stroke="#3c3c3c" stroke-width="2.4" stroke-linecap="square"/>
<path d="M262.95 1416.00V115.70H2046.40" fill="none" stroke="#141414" stroke-width="2.6" stroke-linecap="square"/>
<g stroke="#141414" stroke-width="2.4">
<line x1="559.3" y1="1416.0" x2="559.3" y2="1398.0" stroke="#141414"/>
<line x1="559.3" y1="115.7" x2="559.3" y2="133.7" stroke="#4a4a4a"/>
<line x1="858.5" y1="1416.0" x2="858.5" y2="1398.0" stroke="#141414"/>
<line x1="858.5" y1="115.7" x2="858.5" y2="133.7" stroke="#141414"/>
<line x1="1154.4" y1="1416.0" x2="1154.4" y2="1398.0" stroke="#141414"/>
<line x1="1154.4" y1="115.7" x2="1154.4" y2="133.7" stroke="#141414"/>
<line x1="1452.3" y1="1416.0" x2="1452.3" y2="1398.0" stroke="#bdbdbd"/>
<line x1="1452.3" y1="115.7" x2="1452.3" y2="133.7" stroke="#141414"/>
<line x1="1750.3" y1="1416.0" x2="1750.3" y2="1398.0" stroke="#141414"/>
<line x1="1750.3" y1="115.7" x2="1750.3" y2="133.7" stroke="#141414"/>
<line x1="262.9" y1="278.7" x2="280.9" y2="278.7" stroke="#141414"/>
<line x1="2046.4" y1="278.7" x2="2028.4" y2="278.7" stroke="#141414"/>
<line x1="262.9" y1="442.1" x2="280.9" y2="442.1" stroke="#141414"/>
<line x1="2046.4" y1="442.1" x2="2028.4" y2="442.1" stroke="#141414"/>
<line x1="262.9" y1="604.9" x2="280.9" y2="604.9" stroke="#7d7d7d"/>
<line x1="2046.4" y1="604.9" x2="2028.4" y2="604.9" stroke="#858585"/>
<line x1="262.9" y1="765.9" x2="280.9" y2="765.9" stroke="#6b6b6b"/>
<line x1="2046.4" y1="765.9" x2="2028.4" y2="765.9" stroke="#6b6b6b"/>
<line x1="262.9" y1="928.8" x2="280.9" y2="928.8" stroke="#141414"/>
<line x1="2046.4" y1="928.8" x2="2028.4" y2="928.8" stroke="#141414"/>
<line x1="262.9" y1="1092.3" x2="280.9" y2="1092.3" stroke="#141414"/>
<line x1="2046.4" y1="1092.3" x2="2028.4" y2="1092.3" stroke="#141414"/>
<line x1="262.9" y1="1255.4" x2="280.9" y2="1255.4" stroke="#bbbbbb"/>
<line x1="2046.4" y1="1255.4" x2="2028.4" y2="1255.4" stroke="#bbbbbb"/>
</g>
<g font-family="'Liberation Sans', sans-serif" fill="#1c1c1c">
<g font-size="57" text-anchor="end">
<text x="244.6" y="138.2">350</text>
<text x="244.6" y="301.2">300</text>
<text x="244.6" y="464.6">250</text>
<text x="244.6" y="627.4">200</text>
<text x="244.6" y="788.4">150</text>
<text x="244.6" y="951.3">100</text>
<text x="244.6" y="1114.8">50</text>
<text x="244.6" y="1277.9">0</text>
<text x="247.2" y="1438.5">−50</text>
</g>
<g font-size="57" text-anchor="middle">
<text x="262.9" y="1490.7">0</text>
<text x="559.3" y="1490.7">5</text>
<text x="858.5" y="1490.7">10</text>
<text x="1154.4" y="1490.7">15</text>
<text x="1452.3" y="1490.7">20</text>
<text x="1748.8" y="1490.7">25</text>
<text x="2046.4" y="1490.7">30</text>
</g>
<text x="1226.4" y="1641.8" font-size="86.8" text-anchor="middle">Time (s)</text>
<text transform="translate(90.3,760.5) rotate(-90)" font-size="86" text-anchor="middle">VM Force (N)</text>
</g>
<rect x="1447.5" y="23" width="598.5" height="185" fill="#fff"/>
<path d="M1447.5 208V23.2H2046" fill="none" stroke="#7a7a7a" stroke-width="1.3"/>
<path d="M1447 208H2046" fill="none" stroke="#262626" stroke-width="2.2"/>
<path d="M2045 22.6V115.7" fill="none" stroke="#808080" stroke-width="4.8"/>
<path d="M2043.9 115V208.9" fill="none" stroke="#808080" stroke-width="2.7"/>
<path d="M2046.40 114.4V1416.00" fill="none" stroke="#141414" stroke-width="2.9" stroke-linecap="square"/>
<circle cx="1498.5" cy="70.8" r="8.4" fill="#a9a9a9"/>
<circle cx="1498.5" cy="160.3" r="8.4" fill="#1f1f1f"/>
<g font-family="'Liberation Sans', sans-serif" fill="#111" font-size="69.5">
<text x="1547.5" y="97.8">Model</text>
<text x="1547.5" y="187.2" letter-spacing="-0.42">EMG calibration</text>
</g>
</svg>
</body>
</html>
